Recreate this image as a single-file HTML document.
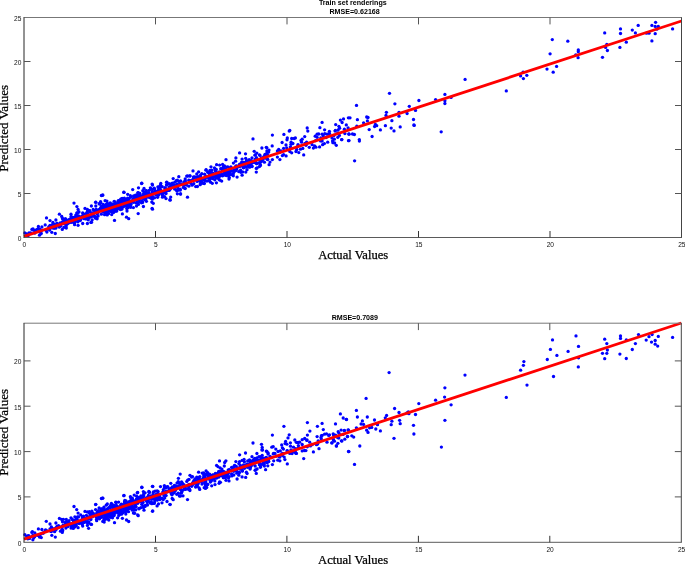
<!DOCTYPE html>
<html><head><meta charset="utf-8"><style>
html,body{margin:0;padding:0;background:#fff;}
svg{display:block;}
#w{width:685px;height:564px;overflow:hidden;will-change:transform;}
</style></head><body>
<div id="w"><svg width="685" height="564" viewBox="0 0 685 564">
<rect width="685" height="564" fill="#fff"/>
<g fill="#0000ff">
<circle cx="33.0" cy="229.0" r="1.65"/>
<circle cx="52.0" cy="227.9" r="1.65"/>
<circle cx="52.9" cy="222.5" r="1.65"/>
<circle cx="46.1" cy="230.4" r="1.65"/>
<circle cx="30.7" cy="233.0" r="1.65"/>
<circle cx="59.7" cy="224.4" r="1.65"/>
<circle cx="60.2" cy="223.0" r="1.65"/>
<circle cx="54.1" cy="227.8" r="1.65"/>
<circle cx="34.9" cy="233.0" r="1.65"/>
<circle cx="39.8" cy="232.1" r="1.65"/>
<circle cx="49.3" cy="229.2" r="1.65"/>
<circle cx="60.5" cy="223.6" r="1.65"/>
<circle cx="46.9" cy="232.0" r="1.65"/>
<circle cx="33.5" cy="230.2" r="1.65"/>
<circle cx="50.1" cy="227.6" r="1.65"/>
<circle cx="41.4" cy="230.4" r="1.65"/>
<circle cx="54.3" cy="224.5" r="1.65"/>
<circle cx="56.6" cy="224.6" r="1.65"/>
<circle cx="59.1" cy="224.6" r="1.65"/>
<circle cx="49.7" cy="230.1" r="1.65"/>
<circle cx="58.7" cy="226.7" r="1.65"/>
<circle cx="60.9" cy="226.0" r="1.65"/>
<circle cx="48.7" cy="227.0" r="1.65"/>
<circle cx="45.2" cy="224.9" r="1.65"/>
<circle cx="37.9" cy="228.9" r="1.65"/>
<circle cx="39.7" cy="229.2" r="1.65"/>
<circle cx="57.0" cy="223.3" r="1.65"/>
<circle cx="53.9" cy="228.2" r="1.65"/>
<circle cx="55.7" cy="228.2" r="1.65"/>
<circle cx="36.6" cy="229.6" r="1.65"/>
<circle cx="84.1" cy="218.7" r="1.65"/>
<circle cx="97.1" cy="218.8" r="1.65"/>
<circle cx="79.8" cy="216.6" r="1.65"/>
<circle cx="70.4" cy="219.0" r="1.65"/>
<circle cx="73.0" cy="219.2" r="1.65"/>
<circle cx="98.9" cy="209.6" r="1.65"/>
<circle cx="64.7" cy="223.0" r="1.65"/>
<circle cx="91.3" cy="215.0" r="1.65"/>
<circle cx="75.9" cy="216.4" r="1.65"/>
<circle cx="86.2" cy="216.0" r="1.65"/>
<circle cx="77.3" cy="219.2" r="1.65"/>
<circle cx="73.6" cy="222.5" r="1.65"/>
<circle cx="66.2" cy="224.0" r="1.65"/>
<circle cx="87.3" cy="211.4" r="1.65"/>
<circle cx="95.5" cy="210.3" r="1.65"/>
<circle cx="78.1" cy="219.9" r="1.65"/>
<circle cx="77.4" cy="218.3" r="1.65"/>
<circle cx="79.6" cy="217.4" r="1.65"/>
<circle cx="82.3" cy="216.5" r="1.65"/>
<circle cx="88.8" cy="215.2" r="1.65"/>
<circle cx="62.4" cy="221.9" r="1.65"/>
<circle cx="63.3" cy="222.4" r="1.65"/>
<circle cx="68.9" cy="222.7" r="1.65"/>
<circle cx="88.0" cy="215.6" r="1.65"/>
<circle cx="89.7" cy="211.7" r="1.65"/>
<circle cx="80.1" cy="220.6" r="1.65"/>
<circle cx="80.9" cy="219.0" r="1.65"/>
<circle cx="95.1" cy="210.9" r="1.65"/>
<circle cx="88.3" cy="214.7" r="1.65"/>
<circle cx="65.2" cy="222.1" r="1.65"/>
<circle cx="63.2" cy="219.2" r="1.65"/>
<circle cx="95.3" cy="218.1" r="1.65"/>
<circle cx="93.9" cy="216.2" r="1.65"/>
<circle cx="91.4" cy="216.8" r="1.65"/>
<circle cx="92.8" cy="213.8" r="1.65"/>
<circle cx="68.8" cy="219.7" r="1.65"/>
<circle cx="92.1" cy="213.2" r="1.65"/>
<circle cx="79.0" cy="212.0" r="1.65"/>
<circle cx="95.8" cy="216.9" r="1.65"/>
<circle cx="95.6" cy="217.8" r="1.65"/>
<circle cx="74.8" cy="222.5" r="1.65"/>
<circle cx="88.2" cy="216.3" r="1.65"/>
<circle cx="75.3" cy="221.2" r="1.65"/>
<circle cx="93.3" cy="214.0" r="1.65"/>
<circle cx="65.4" cy="224.3" r="1.65"/>
<circle cx="69.8" cy="220.1" r="1.65"/>
<circle cx="66.3" cy="228.0" r="1.65"/>
<circle cx="74.1" cy="218.8" r="1.65"/>
<circle cx="65.6" cy="218.9" r="1.65"/>
<circle cx="62.5" cy="218.5" r="1.65"/>
<circle cx="86.1" cy="217.5" r="1.65"/>
<circle cx="83.6" cy="213.9" r="1.65"/>
<circle cx="92.6" cy="213.6" r="1.65"/>
<circle cx="87.1" cy="217.5" r="1.65"/>
<circle cx="83.0" cy="214.1" r="1.65"/>
<circle cx="97.6" cy="211.2" r="1.65"/>
<circle cx="72.9" cy="217.3" r="1.65"/>
<circle cx="77.2" cy="213.1" r="1.65"/>
<circle cx="64.1" cy="223.0" r="1.65"/>
<circle cx="67.6" cy="222.6" r="1.65"/>
<circle cx="66.6" cy="220.5" r="1.65"/>
<circle cx="79.0" cy="220.1" r="1.65"/>
<circle cx="87.3" cy="213.3" r="1.65"/>
<circle cx="75.8" cy="215.1" r="1.65"/>
<circle cx="87.2" cy="213.8" r="1.65"/>
<circle cx="82.7" cy="216.2" r="1.65"/>
<circle cx="74.1" cy="217.4" r="1.65"/>
<circle cx="71.1" cy="216.4" r="1.65"/>
<circle cx="78.5" cy="215.8" r="1.65"/>
<circle cx="63.5" cy="223.6" r="1.65"/>
<circle cx="63.9" cy="227.4" r="1.65"/>
<circle cx="78.7" cy="217.8" r="1.65"/>
<circle cx="87.3" cy="214.6" r="1.65"/>
<circle cx="98.1" cy="216.0" r="1.65"/>
<circle cx="91.4" cy="206.0" r="1.65"/>
<circle cx="97.0" cy="213.7" r="1.65"/>
<circle cx="64.2" cy="220.1" r="1.65"/>
<circle cx="72.4" cy="221.7" r="1.65"/>
<circle cx="85.4" cy="218.7" r="1.65"/>
<circle cx="94.6" cy="216.4" r="1.65"/>
<circle cx="64.3" cy="221.9" r="1.65"/>
<circle cx="86.3" cy="213.5" r="1.65"/>
<circle cx="88.3" cy="219.8" r="1.65"/>
<circle cx="74.9" cy="218.5" r="1.65"/>
<circle cx="89.7" cy="217.0" r="1.65"/>
<circle cx="77.9" cy="221.8" r="1.65"/>
<circle cx="72.1" cy="220.3" r="1.65"/>
<circle cx="92.3" cy="215.5" r="1.65"/>
<circle cx="65.7" cy="222.5" r="1.65"/>
<circle cx="68.0" cy="223.3" r="1.65"/>
<circle cx="89.7" cy="210.8" r="1.65"/>
<circle cx="96.2" cy="210.1" r="1.65"/>
<circle cx="79.1" cy="219.6" r="1.65"/>
<circle cx="81.6" cy="217.5" r="1.65"/>
<circle cx="89.2" cy="217.5" r="1.65"/>
<circle cx="70.6" cy="219.0" r="1.65"/>
<circle cx="84.5" cy="218.4" r="1.65"/>
<circle cx="97.4" cy="210.9" r="1.65"/>
<circle cx="96.3" cy="209.4" r="1.65"/>
<circle cx="66.9" cy="220.4" r="1.65"/>
<circle cx="66.2" cy="225.8" r="1.65"/>
<circle cx="89.1" cy="215.6" r="1.65"/>
<circle cx="99.7" cy="204.0" r="1.65"/>
<circle cx="77.3" cy="213.1" r="1.65"/>
<circle cx="67.1" cy="223.9" r="1.65"/>
<circle cx="82.2" cy="217.7" r="1.65"/>
<circle cx="99.5" cy="210.6" r="1.65"/>
<circle cx="89.5" cy="216.4" r="1.65"/>
<circle cx="76.8" cy="217.1" r="1.65"/>
<circle cx="94.4" cy="212.3" r="1.65"/>
<circle cx="104.4" cy="208.1" r="1.65"/>
<circle cx="121.4" cy="202.8" r="1.65"/>
<circle cx="118.2" cy="201.8" r="1.65"/>
<circle cx="117.0" cy="208.3" r="1.65"/>
<circle cx="101.3" cy="206.4" r="1.65"/>
<circle cx="115.6" cy="205.1" r="1.65"/>
<circle cx="126.4" cy="202.1" r="1.65"/>
<circle cx="106.8" cy="205.8" r="1.65"/>
<circle cx="103.8" cy="211.5" r="1.65"/>
<circle cx="118.3" cy="200.6" r="1.65"/>
<circle cx="113.3" cy="204.5" r="1.65"/>
<circle cx="115.9" cy="205.8" r="1.65"/>
<circle cx="104.4" cy="206.4" r="1.65"/>
<circle cx="120.1" cy="201.4" r="1.65"/>
<circle cx="107.4" cy="210.9" r="1.65"/>
<circle cx="120.6" cy="205.8" r="1.65"/>
<circle cx="115.3" cy="206.0" r="1.65"/>
<circle cx="112.0" cy="203.8" r="1.65"/>
<circle cx="127.2" cy="203.1" r="1.65"/>
<circle cx="117.7" cy="207.1" r="1.65"/>
<circle cx="118.9" cy="201.2" r="1.65"/>
<circle cx="113.2" cy="208.3" r="1.65"/>
<circle cx="120.1" cy="208.9" r="1.65"/>
<circle cx="119.2" cy="201.0" r="1.65"/>
<circle cx="114.1" cy="209.6" r="1.65"/>
<circle cx="118.8" cy="203.8" r="1.65"/>
<circle cx="126.1" cy="201.2" r="1.65"/>
<circle cx="122.3" cy="200.9" r="1.65"/>
<circle cx="118.0" cy="208.8" r="1.65"/>
<circle cx="116.0" cy="203.6" r="1.65"/>
<circle cx="129.2" cy="198.4" r="1.65"/>
<circle cx="128.1" cy="201.3" r="1.65"/>
<circle cx="128.3" cy="202.3" r="1.65"/>
<circle cx="125.7" cy="203.6" r="1.65"/>
<circle cx="126.5" cy="200.6" r="1.65"/>
<circle cx="120.5" cy="205.9" r="1.65"/>
<circle cx="128.2" cy="202.5" r="1.65"/>
<circle cx="119.9" cy="207.8" r="1.65"/>
<circle cx="106.6" cy="207.4" r="1.65"/>
<circle cx="114.4" cy="207.2" r="1.65"/>
<circle cx="106.9" cy="211.4" r="1.65"/>
<circle cx="104.5" cy="211.0" r="1.65"/>
<circle cx="103.6" cy="211.7" r="1.65"/>
<circle cx="109.5" cy="210.5" r="1.65"/>
<circle cx="121.8" cy="201.9" r="1.65"/>
<circle cx="105.6" cy="210.3" r="1.65"/>
<circle cx="108.9" cy="208.0" r="1.65"/>
<circle cx="114.0" cy="204.4" r="1.65"/>
<circle cx="124.2" cy="204.7" r="1.65"/>
<circle cx="125.3" cy="199.7" r="1.65"/>
<circle cx="119.3" cy="204.9" r="1.65"/>
<circle cx="105.1" cy="210.7" r="1.65"/>
<circle cx="123.7" cy="198.7" r="1.65"/>
<circle cx="129.0" cy="205.3" r="1.65"/>
<circle cx="127.6" cy="201.6" r="1.65"/>
<circle cx="108.3" cy="208.4" r="1.65"/>
<circle cx="106.6" cy="206.0" r="1.65"/>
<circle cx="127.6" cy="198.1" r="1.65"/>
<circle cx="121.2" cy="208.4" r="1.65"/>
<circle cx="114.2" cy="205.2" r="1.65"/>
<circle cx="125.1" cy="202.0" r="1.65"/>
<circle cx="121.8" cy="209.2" r="1.65"/>
<circle cx="126.0" cy="204.4" r="1.65"/>
<circle cx="128.5" cy="202.4" r="1.65"/>
<circle cx="104.3" cy="205.6" r="1.65"/>
<circle cx="114.5" cy="207.5" r="1.65"/>
<circle cx="126.4" cy="205.1" r="1.65"/>
<circle cx="104.0" cy="208.9" r="1.65"/>
<circle cx="127.4" cy="199.8" r="1.65"/>
<circle cx="104.1" cy="210.3" r="1.65"/>
<circle cx="100.3" cy="208.7" r="1.65"/>
<circle cx="116.7" cy="204.3" r="1.65"/>
<circle cx="127.7" cy="194.3" r="1.65"/>
<circle cx="102.0" cy="211.1" r="1.65"/>
<circle cx="122.7" cy="203.8" r="1.65"/>
<circle cx="100.9" cy="202.9" r="1.65"/>
<circle cx="115.2" cy="202.1" r="1.65"/>
<circle cx="114.1" cy="204.9" r="1.65"/>
<circle cx="108.2" cy="213.5" r="1.65"/>
<circle cx="121.0" cy="200.5" r="1.65"/>
<circle cx="128.8" cy="200.4" r="1.65"/>
<circle cx="120.8" cy="203.8" r="1.65"/>
<circle cx="103.1" cy="210.0" r="1.65"/>
<circle cx="106.2" cy="204.5" r="1.65"/>
<circle cx="104.6" cy="211.3" r="1.65"/>
<circle cx="129.3" cy="202.2" r="1.65"/>
<circle cx="106.8" cy="210.0" r="1.65"/>
<circle cx="110.2" cy="206.6" r="1.65"/>
<circle cx="114.2" cy="201.3" r="1.65"/>
<circle cx="107.2" cy="214.9" r="1.65"/>
<circle cx="114.5" cy="206.7" r="1.65"/>
<circle cx="120.7" cy="205.7" r="1.65"/>
<circle cx="110.2" cy="202.9" r="1.65"/>
<circle cx="102.7" cy="210.5" r="1.65"/>
<circle cx="101.6" cy="206.7" r="1.65"/>
<circle cx="100.6" cy="201.7" r="1.65"/>
<circle cx="113.6" cy="212.4" r="1.65"/>
<circle cx="129.7" cy="201.1" r="1.65"/>
<circle cx="115.9" cy="206.8" r="1.65"/>
<circle cx="114.2" cy="206.2" r="1.65"/>
<circle cx="125.4" cy="200.1" r="1.65"/>
<circle cx="113.5" cy="208.7" r="1.65"/>
<circle cx="111.4" cy="210.5" r="1.65"/>
<circle cx="106.9" cy="201.1" r="1.65"/>
<circle cx="109.7" cy="209.5" r="1.65"/>
<circle cx="124.4" cy="198.2" r="1.65"/>
<circle cx="120.5" cy="209.5" r="1.65"/>
<circle cx="119.0" cy="201.7" r="1.65"/>
<circle cx="108.5" cy="213.5" r="1.65"/>
<circle cx="125.7" cy="205.7" r="1.65"/>
<circle cx="126.7" cy="201.8" r="1.65"/>
<circle cx="127.9" cy="206.9" r="1.65"/>
<circle cx="106.2" cy="210.9" r="1.65"/>
<circle cx="106.6" cy="209.1" r="1.65"/>
<circle cx="120.4" cy="206.8" r="1.65"/>
<circle cx="120.7" cy="199.1" r="1.65"/>
<circle cx="129.4" cy="204.7" r="1.65"/>
<circle cx="127.6" cy="201.4" r="1.65"/>
<circle cx="121.6" cy="204.1" r="1.65"/>
<circle cx="105.1" cy="213.4" r="1.65"/>
<circle cx="112.0" cy="207.3" r="1.65"/>
<circle cx="116.1" cy="205.3" r="1.65"/>
<circle cx="113.1" cy="206.5" r="1.65"/>
<circle cx="115.7" cy="207.0" r="1.65"/>
<circle cx="110.0" cy="210.3" r="1.65"/>
<circle cx="120.4" cy="206.1" r="1.65"/>
<circle cx="102.4" cy="210.5" r="1.65"/>
<circle cx="114.1" cy="205.1" r="1.65"/>
<circle cx="111.0" cy="211.5" r="1.65"/>
<circle cx="122.1" cy="198.6" r="1.65"/>
<circle cx="108.8" cy="205.5" r="1.65"/>
<circle cx="115.3" cy="211.2" r="1.65"/>
<circle cx="119.1" cy="204.4" r="1.65"/>
<circle cx="111.5" cy="205.2" r="1.65"/>
<circle cx="128.6" cy="198.7" r="1.65"/>
<circle cx="104.6" cy="214.7" r="1.65"/>
<circle cx="100.4" cy="208.3" r="1.65"/>
<circle cx="117.9" cy="205.1" r="1.65"/>
<circle cx="123.1" cy="207.0" r="1.65"/>
<circle cx="111.2" cy="208.2" r="1.65"/>
<circle cx="127.2" cy="205.7" r="1.65"/>
<circle cx="122.2" cy="198.4" r="1.65"/>
<circle cx="110.4" cy="204.8" r="1.65"/>
<circle cx="111.0" cy="204.7" r="1.65"/>
<circle cx="108.7" cy="204.2" r="1.65"/>
<circle cx="107.3" cy="203.3" r="1.65"/>
<circle cx="110.7" cy="209.1" r="1.65"/>
<circle cx="111.7" cy="209.7" r="1.65"/>
<circle cx="102.8" cy="208.3" r="1.65"/>
<circle cx="124.2" cy="200.8" r="1.65"/>
<circle cx="107.3" cy="207.8" r="1.65"/>
<circle cx="105.1" cy="200.7" r="1.65"/>
<circle cx="111.1" cy="210.5" r="1.65"/>
<circle cx="109.9" cy="207.2" r="1.65"/>
<circle cx="104.6" cy="210.8" r="1.65"/>
<circle cx="126.4" cy="200.0" r="1.65"/>
<circle cx="116.7" cy="209.7" r="1.65"/>
<circle cx="127.0" cy="211.0" r="1.65"/>
<circle cx="122.5" cy="199.5" r="1.65"/>
<circle cx="128.4" cy="198.6" r="1.65"/>
<circle cx="105.9" cy="209.4" r="1.65"/>
<circle cx="112.5" cy="212.2" r="1.65"/>
<circle cx="129.6" cy="203.2" r="1.65"/>
<circle cx="104.8" cy="206.2" r="1.65"/>
<circle cx="118.4" cy="201.7" r="1.65"/>
<circle cx="123.4" cy="200.9" r="1.65"/>
<circle cx="114.3" cy="209.6" r="1.65"/>
<circle cx="104.8" cy="206.8" r="1.65"/>
<circle cx="124.6" cy="206.2" r="1.65"/>
<circle cx="127.8" cy="207.8" r="1.65"/>
<circle cx="105.9" cy="210.5" r="1.65"/>
<circle cx="113.7" cy="211.1" r="1.65"/>
<circle cx="111.2" cy="207.3" r="1.65"/>
<circle cx="103.9" cy="206.9" r="1.65"/>
<circle cx="116.5" cy="211.2" r="1.65"/>
<circle cx="103.2" cy="204.5" r="1.65"/>
<circle cx="122.4" cy="200.0" r="1.65"/>
<circle cx="111.7" cy="214.6" r="1.65"/>
<circle cx="103.1" cy="208.2" r="1.65"/>
<circle cx="105.3" cy="212.5" r="1.65"/>
<circle cx="123.1" cy="201.0" r="1.65"/>
<circle cx="107.0" cy="213.2" r="1.65"/>
<circle cx="114.7" cy="205.0" r="1.65"/>
<circle cx="108.7" cy="206.4" r="1.65"/>
<circle cx="125.2" cy="200.5" r="1.65"/>
<circle cx="118.5" cy="206.7" r="1.65"/>
<circle cx="120.7" cy="206.8" r="1.65"/>
<circle cx="125.6" cy="199.6" r="1.65"/>
<circle cx="126.8" cy="208.5" r="1.65"/>
<circle cx="120.8" cy="201.1" r="1.65"/>
<circle cx="159.4" cy="186.7" r="1.65"/>
<circle cx="152.0" cy="195.6" r="1.65"/>
<circle cx="136.4" cy="203.2" r="1.65"/>
<circle cx="133.7" cy="202.3" r="1.65"/>
<circle cx="141.5" cy="202.8" r="1.65"/>
<circle cx="133.6" cy="195.9" r="1.65"/>
<circle cx="132.5" cy="201.6" r="1.65"/>
<circle cx="130.7" cy="207.2" r="1.65"/>
<circle cx="136.8" cy="200.5" r="1.65"/>
<circle cx="145.7" cy="197.3" r="1.65"/>
<circle cx="135.5" cy="195.1" r="1.65"/>
<circle cx="151.7" cy="197.2" r="1.65"/>
<circle cx="142.5" cy="198.3" r="1.65"/>
<circle cx="154.8" cy="189.1" r="1.65"/>
<circle cx="137.5" cy="196.0" r="1.65"/>
<circle cx="158.4" cy="195.3" r="1.65"/>
<circle cx="148.6" cy="192.8" r="1.65"/>
<circle cx="138.4" cy="199.0" r="1.65"/>
<circle cx="136.5" cy="206.1" r="1.65"/>
<circle cx="156.8" cy="192.0" r="1.65"/>
<circle cx="145.9" cy="195.5" r="1.65"/>
<circle cx="144.4" cy="194.0" r="1.65"/>
<circle cx="134.4" cy="197.7" r="1.65"/>
<circle cx="133.0" cy="201.6" r="1.65"/>
<circle cx="157.6" cy="197.3" r="1.65"/>
<circle cx="151.0" cy="198.0" r="1.65"/>
<circle cx="132.7" cy="189.6" r="1.65"/>
<circle cx="159.6" cy="192.7" r="1.65"/>
<circle cx="146.9" cy="196.6" r="1.65"/>
<circle cx="138.8" cy="193.4" r="1.65"/>
<circle cx="146.5" cy="193.3" r="1.65"/>
<circle cx="154.6" cy="191.4" r="1.65"/>
<circle cx="143.3" cy="197.0" r="1.65"/>
<circle cx="143.3" cy="195.8" r="1.65"/>
<circle cx="131.3" cy="196.9" r="1.65"/>
<circle cx="146.3" cy="190.7" r="1.65"/>
<circle cx="147.0" cy="194.1" r="1.65"/>
<circle cx="141.6" cy="195.9" r="1.65"/>
<circle cx="147.4" cy="193.7" r="1.65"/>
<circle cx="144.3" cy="194.1" r="1.65"/>
<circle cx="139.9" cy="193.5" r="1.65"/>
<circle cx="139.8" cy="196.5" r="1.65"/>
<circle cx="150.5" cy="197.0" r="1.65"/>
<circle cx="159.4" cy="188.4" r="1.65"/>
<circle cx="139.3" cy="200.2" r="1.65"/>
<circle cx="140.9" cy="196.8" r="1.65"/>
<circle cx="154.5" cy="197.8" r="1.65"/>
<circle cx="156.1" cy="193.8" r="1.65"/>
<circle cx="158.3" cy="190.9" r="1.65"/>
<circle cx="140.0" cy="195.4" r="1.65"/>
<circle cx="148.9" cy="195.9" r="1.65"/>
<circle cx="156.4" cy="193.0" r="1.65"/>
<circle cx="148.8" cy="197.0" r="1.65"/>
<circle cx="138.7" cy="201.5" r="1.65"/>
<circle cx="156.1" cy="191.6" r="1.65"/>
<circle cx="152.3" cy="199.2" r="1.65"/>
<circle cx="139.6" cy="198.2" r="1.65"/>
<circle cx="142.0" cy="201.5" r="1.65"/>
<circle cx="147.8" cy="192.8" r="1.65"/>
<circle cx="142.6" cy="202.4" r="1.65"/>
<circle cx="134.1" cy="201.1" r="1.65"/>
<circle cx="150.4" cy="187.8" r="1.65"/>
<circle cx="146.4" cy="201.3" r="1.65"/>
<circle cx="130.3" cy="195.7" r="1.65"/>
<circle cx="144.6" cy="199.5" r="1.65"/>
<circle cx="137.3" cy="199.4" r="1.65"/>
<circle cx="143.8" cy="194.0" r="1.65"/>
<circle cx="137.8" cy="192.9" r="1.65"/>
<circle cx="130.4" cy="207.0" r="1.65"/>
<circle cx="146.5" cy="195.9" r="1.65"/>
<circle cx="133.4" cy="207.6" r="1.65"/>
<circle cx="145.9" cy="198.7" r="1.65"/>
<circle cx="155.8" cy="194.1" r="1.65"/>
<circle cx="154.2" cy="188.1" r="1.65"/>
<circle cx="137.6" cy="199.0" r="1.65"/>
<circle cx="153.0" cy="197.4" r="1.65"/>
<circle cx="153.8" cy="193.8" r="1.65"/>
<circle cx="144.3" cy="192.4" r="1.65"/>
<circle cx="135.8" cy="197.1" r="1.65"/>
<circle cx="145.4" cy="192.2" r="1.65"/>
<circle cx="151.8" cy="202.1" r="1.65"/>
<circle cx="133.2" cy="199.3" r="1.65"/>
<circle cx="138.6" cy="194.7" r="1.65"/>
<circle cx="138.5" cy="195.3" r="1.65"/>
<circle cx="157.9" cy="186.8" r="1.65"/>
<circle cx="131.6" cy="202.2" r="1.65"/>
<circle cx="138.4" cy="204.4" r="1.65"/>
<circle cx="145.7" cy="197.1" r="1.65"/>
<circle cx="158.6" cy="189.7" r="1.65"/>
<circle cx="140.7" cy="196.1" r="1.65"/>
<circle cx="141.3" cy="198.2" r="1.65"/>
<circle cx="149.5" cy="196.5" r="1.65"/>
<circle cx="139.4" cy="193.3" r="1.65"/>
<circle cx="138.2" cy="200.2" r="1.65"/>
<circle cx="143.2" cy="195.8" r="1.65"/>
<circle cx="150.0" cy="197.5" r="1.65"/>
<circle cx="133.0" cy="199.1" r="1.65"/>
<circle cx="150.1" cy="195.7" r="1.65"/>
<circle cx="138.9" cy="202.2" r="1.65"/>
<circle cx="149.9" cy="194.1" r="1.65"/>
<circle cx="145.7" cy="198.4" r="1.65"/>
<circle cx="149.2" cy="190.4" r="1.65"/>
<circle cx="131.0" cy="204.5" r="1.65"/>
<circle cx="142.4" cy="201.6" r="1.65"/>
<circle cx="159.3" cy="187.8" r="1.65"/>
<circle cx="152.4" cy="189.4" r="1.65"/>
<circle cx="158.9" cy="187.7" r="1.65"/>
<circle cx="142.8" cy="190.7" r="1.65"/>
<circle cx="138.0" cy="200.7" r="1.65"/>
<circle cx="156.8" cy="194.2" r="1.65"/>
<circle cx="149.7" cy="195.7" r="1.65"/>
<circle cx="143.8" cy="197.1" r="1.65"/>
<circle cx="146.3" cy="195.6" r="1.65"/>
<circle cx="137.9" cy="199.3" r="1.65"/>
<circle cx="156.3" cy="191.8" r="1.65"/>
<circle cx="138.1" cy="192.7" r="1.65"/>
<circle cx="150.0" cy="195.7" r="1.65"/>
<circle cx="158.7" cy="194.6" r="1.65"/>
<circle cx="136.4" cy="198.7" r="1.65"/>
<circle cx="156.0" cy="195.1" r="1.65"/>
<circle cx="150.6" cy="189.2" r="1.65"/>
<circle cx="143.9" cy="193.3" r="1.65"/>
<circle cx="157.5" cy="192.9" r="1.65"/>
<circle cx="137.1" cy="196.3" r="1.65"/>
<circle cx="146.1" cy="190.6" r="1.65"/>
<circle cx="149.6" cy="196.9" r="1.65"/>
<circle cx="152.3" cy="192.0" r="1.65"/>
<circle cx="152.3" cy="192.5" r="1.65"/>
<circle cx="159.4" cy="188.4" r="1.65"/>
<circle cx="137.0" cy="195.1" r="1.65"/>
<circle cx="188.8" cy="186.2" r="1.65"/>
<circle cx="166.8" cy="185.1" r="1.65"/>
<circle cx="169.9" cy="186.8" r="1.65"/>
<circle cx="160.5" cy="185.0" r="1.65"/>
<circle cx="165.0" cy="191.4" r="1.65"/>
<circle cx="179.7" cy="184.0" r="1.65"/>
<circle cx="169.9" cy="183.9" r="1.65"/>
<circle cx="177.4" cy="180.2" r="1.65"/>
<circle cx="171.7" cy="185.5" r="1.65"/>
<circle cx="178.8" cy="189.9" r="1.65"/>
<circle cx="172.3" cy="183.2" r="1.65"/>
<circle cx="167.8" cy="190.0" r="1.65"/>
<circle cx="165.4" cy="188.3" r="1.65"/>
<circle cx="177.9" cy="185.0" r="1.65"/>
<circle cx="184.1" cy="185.0" r="1.65"/>
<circle cx="172.4" cy="185.1" r="1.65"/>
<circle cx="187.7" cy="176.0" r="1.65"/>
<circle cx="166.0" cy="198.6" r="1.65"/>
<circle cx="185.2" cy="188.5" r="1.65"/>
<circle cx="184.2" cy="185.0" r="1.65"/>
<circle cx="176.4" cy="180.8" r="1.65"/>
<circle cx="189.9" cy="175.9" r="1.65"/>
<circle cx="165.4" cy="188.8" r="1.65"/>
<circle cx="171.4" cy="187.7" r="1.65"/>
<circle cx="164.4" cy="192.8" r="1.65"/>
<circle cx="162.5" cy="195.0" r="1.65"/>
<circle cx="164.6" cy="196.6" r="1.65"/>
<circle cx="167.3" cy="189.6" r="1.65"/>
<circle cx="162.2" cy="186.7" r="1.65"/>
<circle cx="178.9" cy="181.4" r="1.65"/>
<circle cx="176.4" cy="180.6" r="1.65"/>
<circle cx="169.3" cy="187.3" r="1.65"/>
<circle cx="185.3" cy="180.8" r="1.65"/>
<circle cx="186.7" cy="176.1" r="1.65"/>
<circle cx="185.2" cy="179.0" r="1.65"/>
<circle cx="182.0" cy="183.8" r="1.65"/>
<circle cx="177.4" cy="193.8" r="1.65"/>
<circle cx="166.0" cy="191.0" r="1.65"/>
<circle cx="174.5" cy="185.3" r="1.65"/>
<circle cx="177.3" cy="186.3" r="1.65"/>
<circle cx="177.7" cy="187.7" r="1.65"/>
<circle cx="169.2" cy="184.0" r="1.65"/>
<circle cx="176.9" cy="191.0" r="1.65"/>
<circle cx="185.3" cy="182.0" r="1.65"/>
<circle cx="160.3" cy="190.5" r="1.65"/>
<circle cx="164.9" cy="187.7" r="1.65"/>
<circle cx="169.9" cy="189.0" r="1.65"/>
<circle cx="166.3" cy="190.9" r="1.65"/>
<circle cx="166.9" cy="189.3" r="1.65"/>
<circle cx="162.5" cy="197.2" r="1.65"/>
<circle cx="166.0" cy="193.6" r="1.65"/>
<circle cx="166.9" cy="190.7" r="1.65"/>
<circle cx="175.9" cy="186.5" r="1.65"/>
<circle cx="174.6" cy="189.1" r="1.65"/>
<circle cx="162.1" cy="194.3" r="1.65"/>
<circle cx="171.9" cy="184.6" r="1.65"/>
<circle cx="176.5" cy="190.1" r="1.65"/>
<circle cx="171.8" cy="186.3" r="1.65"/>
<circle cx="166.5" cy="184.9" r="1.65"/>
<circle cx="178.4" cy="189.8" r="1.65"/>
<circle cx="168.3" cy="190.4" r="1.65"/>
<circle cx="170.7" cy="186.9" r="1.65"/>
<circle cx="183.3" cy="187.4" r="1.65"/>
<circle cx="160.3" cy="189.4" r="1.65"/>
<circle cx="176.8" cy="185.3" r="1.65"/>
<circle cx="170.5" cy="188.5" r="1.65"/>
<circle cx="186.5" cy="185.1" r="1.65"/>
<circle cx="165.0" cy="190.4" r="1.65"/>
<circle cx="183.9" cy="181.8" r="1.65"/>
<circle cx="180.3" cy="190.0" r="1.65"/>
<circle cx="160.4" cy="189.8" r="1.65"/>
<circle cx="184.0" cy="184.4" r="1.65"/>
<circle cx="174.7" cy="182.3" r="1.65"/>
<circle cx="184.7" cy="188.3" r="1.65"/>
<circle cx="162.0" cy="193.5" r="1.65"/>
<circle cx="169.4" cy="190.3" r="1.65"/>
<circle cx="173.2" cy="178.6" r="1.65"/>
<circle cx="180.1" cy="189.2" r="1.65"/>
<circle cx="188.8" cy="180.2" r="1.65"/>
<circle cx="177.0" cy="184.2" r="1.65"/>
<circle cx="216.3" cy="169.4" r="1.65"/>
<circle cx="218.5" cy="177.6" r="1.65"/>
<circle cx="199.4" cy="179.0" r="1.65"/>
<circle cx="194.9" cy="176.9" r="1.65"/>
<circle cx="200.4" cy="178.3" r="1.65"/>
<circle cx="209.8" cy="173.2" r="1.65"/>
<circle cx="200.5" cy="180.1" r="1.65"/>
<circle cx="201.6" cy="181.3" r="1.65"/>
<circle cx="203.8" cy="183.2" r="1.65"/>
<circle cx="196.8" cy="174.0" r="1.65"/>
<circle cx="219.6" cy="165.1" r="1.65"/>
<circle cx="214.5" cy="167.8" r="1.65"/>
<circle cx="205.8" cy="176.5" r="1.65"/>
<circle cx="220.0" cy="180.2" r="1.65"/>
<circle cx="208.7" cy="180.6" r="1.65"/>
<circle cx="213.0" cy="178.7" r="1.65"/>
<circle cx="216.4" cy="182.8" r="1.65"/>
<circle cx="212.1" cy="173.0" r="1.65"/>
<circle cx="201.8" cy="173.7" r="1.65"/>
<circle cx="212.8" cy="173.4" r="1.65"/>
<circle cx="208.8" cy="177.6" r="1.65"/>
<circle cx="207.7" cy="172.1" r="1.65"/>
<circle cx="218.9" cy="174.4" r="1.65"/>
<circle cx="211.0" cy="166.8" r="1.65"/>
<circle cx="193.7" cy="177.9" r="1.65"/>
<circle cx="197.9" cy="180.6" r="1.65"/>
<circle cx="193.8" cy="183.7" r="1.65"/>
<circle cx="213.5" cy="176.7" r="1.65"/>
<circle cx="216.0" cy="177.9" r="1.65"/>
<circle cx="190.4" cy="180.6" r="1.65"/>
<circle cx="195.7" cy="186.6" r="1.65"/>
<circle cx="199.6" cy="181.1" r="1.65"/>
<circle cx="211.7" cy="170.1" r="1.65"/>
<circle cx="215.5" cy="174.8" r="1.65"/>
<circle cx="209.7" cy="179.8" r="1.65"/>
<circle cx="200.7" cy="180.6" r="1.65"/>
<circle cx="219.3" cy="171.8" r="1.65"/>
<circle cx="217.7" cy="175.3" r="1.65"/>
<circle cx="202.4" cy="183.2" r="1.65"/>
<circle cx="217.6" cy="175.9" r="1.65"/>
<circle cx="204.8" cy="180.5" r="1.65"/>
<circle cx="200.2" cy="184.7" r="1.65"/>
<circle cx="197.4" cy="186.5" r="1.65"/>
<circle cx="197.1" cy="181.4" r="1.65"/>
<circle cx="193.6" cy="176.9" r="1.65"/>
<circle cx="219.9" cy="176.2" r="1.65"/>
<circle cx="196.3" cy="177.5" r="1.65"/>
<circle cx="215.9" cy="171.3" r="1.65"/>
<circle cx="204.6" cy="174.2" r="1.65"/>
<circle cx="206.0" cy="170.2" r="1.65"/>
<circle cx="204.1" cy="179.3" r="1.65"/>
<circle cx="210.8" cy="175.1" r="1.65"/>
<circle cx="212.8" cy="173.3" r="1.65"/>
<circle cx="212.4" cy="173.9" r="1.65"/>
<circle cx="215.5" cy="177.1" r="1.65"/>
<circle cx="209.9" cy="170.5" r="1.65"/>
<circle cx="200.5" cy="176.8" r="1.65"/>
<circle cx="209.3" cy="177.2" r="1.65"/>
<circle cx="200.2" cy="179.4" r="1.65"/>
<circle cx="197.9" cy="176.7" r="1.65"/>
<circle cx="192.6" cy="179.7" r="1.65"/>
<circle cx="214.8" cy="179.8" r="1.65"/>
<circle cx="217.5" cy="178.1" r="1.65"/>
<circle cx="206.9" cy="177.4" r="1.65"/>
<circle cx="200.5" cy="183.4" r="1.65"/>
<circle cx="199.4" cy="176.7" r="1.65"/>
<circle cx="214.9" cy="169.8" r="1.65"/>
<circle cx="204.3" cy="178.5" r="1.65"/>
<circle cx="204.3" cy="183.6" r="1.65"/>
<circle cx="199.1" cy="179.8" r="1.65"/>
<circle cx="203.5" cy="179.4" r="1.65"/>
<circle cx="192.1" cy="185.2" r="1.65"/>
<circle cx="190.9" cy="183.3" r="1.65"/>
<circle cx="210.5" cy="182.2" r="1.65"/>
<circle cx="211.7" cy="177.9" r="1.65"/>
<circle cx="212.1" cy="176.7" r="1.65"/>
<circle cx="212.3" cy="173.1" r="1.65"/>
<circle cx="201.4" cy="178.5" r="1.65"/>
<circle cx="218.4" cy="176.3" r="1.65"/>
<circle cx="200.6" cy="175.1" r="1.65"/>
<circle cx="208.1" cy="172.3" r="1.65"/>
<circle cx="215.6" cy="171.5" r="1.65"/>
<circle cx="206.9" cy="181.0" r="1.65"/>
<circle cx="211.0" cy="178.2" r="1.65"/>
<circle cx="193.0" cy="170.9" r="1.65"/>
<circle cx="209.4" cy="173.9" r="1.65"/>
<circle cx="210.2" cy="171.4" r="1.65"/>
<circle cx="219.6" cy="172.6" r="1.65"/>
<circle cx="198.4" cy="177.4" r="1.65"/>
<circle cx="205.4" cy="177.0" r="1.65"/>
<circle cx="254.1" cy="162.6" r="1.65"/>
<circle cx="265.2" cy="158.0" r="1.65"/>
<circle cx="259.4" cy="166.6" r="1.65"/>
<circle cx="258.6" cy="162.9" r="1.65"/>
<circle cx="229.0" cy="173.7" r="1.65"/>
<circle cx="241.6" cy="165.5" r="1.65"/>
<circle cx="251.4" cy="160.7" r="1.65"/>
<circle cx="233.4" cy="163.1" r="1.65"/>
<circle cx="243.2" cy="167.5" r="1.65"/>
<circle cx="243.6" cy="167.8" r="1.65"/>
<circle cx="223.6" cy="168.1" r="1.65"/>
<circle cx="228.6" cy="175.9" r="1.65"/>
<circle cx="240.8" cy="172.3" r="1.65"/>
<circle cx="224.8" cy="173.0" r="1.65"/>
<circle cx="228.7" cy="170.2" r="1.65"/>
<circle cx="246.5" cy="160.5" r="1.65"/>
<circle cx="249.2" cy="159.7" r="1.65"/>
<circle cx="227.4" cy="170.9" r="1.65"/>
<circle cx="226.8" cy="171.8" r="1.65"/>
<circle cx="235.4" cy="170.8" r="1.65"/>
<circle cx="262.8" cy="159.6" r="1.65"/>
<circle cx="232.9" cy="170.9" r="1.65"/>
<circle cx="226.3" cy="175.5" r="1.65"/>
<circle cx="256.8" cy="153.1" r="1.65"/>
<circle cx="265.8" cy="154.4" r="1.65"/>
<circle cx="238.5" cy="165.9" r="1.65"/>
<circle cx="251.3" cy="163.3" r="1.65"/>
<circle cx="238.7" cy="171.6" r="1.65"/>
<circle cx="252.1" cy="166.5" r="1.65"/>
<circle cx="226.7" cy="167.1" r="1.65"/>
<circle cx="248.5" cy="163.3" r="1.65"/>
<circle cx="223.2" cy="167.6" r="1.65"/>
<circle cx="224.5" cy="166.0" r="1.65"/>
<circle cx="243.8" cy="164.0" r="1.65"/>
<circle cx="255.0" cy="155.2" r="1.65"/>
<circle cx="230.4" cy="167.7" r="1.65"/>
<circle cx="259.9" cy="160.1" r="1.65"/>
<circle cx="230.8" cy="167.8" r="1.65"/>
<circle cx="234.1" cy="169.8" r="1.65"/>
<circle cx="223.3" cy="167.0" r="1.65"/>
<circle cx="255.3" cy="159.1" r="1.65"/>
<circle cx="233.3" cy="175.8" r="1.65"/>
<circle cx="224.9" cy="169.6" r="1.65"/>
<circle cx="240.6" cy="170.1" r="1.65"/>
<circle cx="245.8" cy="167.1" r="1.65"/>
<circle cx="222.0" cy="174.4" r="1.65"/>
<circle cx="267.4" cy="154.7" r="1.65"/>
<circle cx="228.1" cy="170.8" r="1.65"/>
<circle cx="249.0" cy="165.9" r="1.65"/>
<circle cx="252.1" cy="162.8" r="1.65"/>
<circle cx="245.3" cy="163.0" r="1.65"/>
<circle cx="235.6" cy="161.2" r="1.65"/>
<circle cx="256.6" cy="163.6" r="1.65"/>
<circle cx="245.7" cy="158.3" r="1.65"/>
<circle cx="256.6" cy="163.6" r="1.65"/>
<circle cx="247.7" cy="164.7" r="1.65"/>
<circle cx="246.6" cy="161.5" r="1.65"/>
<circle cx="222.4" cy="170.0" r="1.65"/>
<circle cx="235.4" cy="169.9" r="1.65"/>
<circle cx="231.3" cy="174.7" r="1.65"/>
<circle cx="256.5" cy="157.7" r="1.65"/>
<circle cx="249.5" cy="162.7" r="1.65"/>
<circle cx="262.7" cy="158.6" r="1.65"/>
<circle cx="261.3" cy="160.8" r="1.65"/>
<circle cx="233.9" cy="171.9" r="1.65"/>
<circle cx="239.6" cy="164.2" r="1.65"/>
<circle cx="260.4" cy="165.6" r="1.65"/>
<circle cx="233.3" cy="173.7" r="1.65"/>
<circle cx="257.2" cy="167.8" r="1.65"/>
<circle cx="236.2" cy="166.0" r="1.65"/>
<circle cx="266.5" cy="154.9" r="1.65"/>
<circle cx="237.5" cy="166.9" r="1.65"/>
<circle cx="224.1" cy="169.1" r="1.65"/>
<circle cx="247.0" cy="161.4" r="1.65"/>
<circle cx="262.5" cy="158.5" r="1.65"/>
<circle cx="248.8" cy="164.1" r="1.65"/>
<circle cx="224.2" cy="168.1" r="1.65"/>
<circle cx="241.5" cy="163.5" r="1.65"/>
<circle cx="251.7" cy="165.8" r="1.65"/>
<circle cx="229.9" cy="171.8" r="1.65"/>
<circle cx="230.3" cy="171.7" r="1.65"/>
<circle cx="261.0" cy="161.6" r="1.65"/>
<circle cx="266.9" cy="153.1" r="1.65"/>
<circle cx="220.7" cy="168.7" r="1.65"/>
<circle cx="236.3" cy="166.4" r="1.65"/>
<circle cx="222.6" cy="164.4" r="1.65"/>
<circle cx="267.6" cy="159.2" r="1.65"/>
<circle cx="239.4" cy="166.6" r="1.65"/>
<circle cx="263.8" cy="157.6" r="1.65"/>
<circle cx="248.0" cy="165.9" r="1.65"/>
<circle cx="250.0" cy="163.7" r="1.65"/>
<circle cx="244.2" cy="162.7" r="1.65"/>
<circle cx="229.3" cy="177.6" r="1.65"/>
<circle cx="265.7" cy="155.2" r="1.65"/>
<circle cx="226.5" cy="174.0" r="1.65"/>
<circle cx="242.6" cy="171.9" r="1.65"/>
<circle cx="260.8" cy="159.3" r="1.65"/>
<circle cx="225.5" cy="170.6" r="1.65"/>
<circle cx="254.9" cy="161.2" r="1.65"/>
<circle cx="249.7" cy="167.2" r="1.65"/>
<circle cx="222.6" cy="175.8" r="1.65"/>
<circle cx="220.9" cy="175.4" r="1.65"/>
<circle cx="236.6" cy="166.5" r="1.65"/>
<circle cx="224.0" cy="173.0" r="1.65"/>
<circle cx="256.6" cy="159.5" r="1.65"/>
<circle cx="241.7" cy="162.1" r="1.65"/>
<circle cx="263.9" cy="156.6" r="1.65"/>
<circle cx="244.3" cy="165.7" r="1.65"/>
<circle cx="243.5" cy="162.3" r="1.65"/>
<circle cx="244.1" cy="164.2" r="1.65"/>
<circle cx="221.9" cy="168.9" r="1.65"/>
<circle cx="255.3" cy="154.8" r="1.65"/>
<circle cx="260.3" cy="164.3" r="1.65"/>
<circle cx="240.3" cy="166.0" r="1.65"/>
<circle cx="255.6" cy="162.1" r="1.65"/>
<circle cx="248.6" cy="166.9" r="1.65"/>
<circle cx="221.7" cy="181.1" r="1.65"/>
<circle cx="244.6" cy="164.0" r="1.65"/>
<circle cx="249.8" cy="161.1" r="1.65"/>
<circle cx="224.6" cy="175.1" r="1.65"/>
<circle cx="236.8" cy="169.1" r="1.65"/>
<circle cx="251.6" cy="166.3" r="1.65"/>
<circle cx="261.2" cy="161.4" r="1.65"/>
<circle cx="249.8" cy="164.4" r="1.65"/>
<circle cx="265.0" cy="154.3" r="1.65"/>
<circle cx="261.4" cy="158.0" r="1.65"/>
<circle cx="229.9" cy="174.4" r="1.65"/>
<circle cx="248.2" cy="164.0" r="1.65"/>
<circle cx="225.9" cy="169.3" r="1.65"/>
<circle cx="260.0" cy="155.4" r="1.65"/>
<circle cx="235.9" cy="170.4" r="1.65"/>
<circle cx="231.2" cy="170.6" r="1.65"/>
<circle cx="235.8" cy="166.3" r="1.65"/>
<circle cx="267.2" cy="155.4" r="1.65"/>
<circle cx="228.1" cy="172.5" r="1.65"/>
<circle cx="264.4" cy="156.7" r="1.65"/>
<circle cx="230.9" cy="167.0" r="1.65"/>
<circle cx="254.4" cy="161.0" r="1.65"/>
<circle cx="249.4" cy="163.1" r="1.65"/>
<circle cx="227.8" cy="166.9" r="1.65"/>
<circle cx="287.0" cy="139.8" r="1.65"/>
<circle cx="318.7" cy="134.0" r="1.65"/>
<circle cx="305.2" cy="143.4" r="1.65"/>
<circle cx="344.9" cy="133.6" r="1.65"/>
<circle cx="326.1" cy="137.5" r="1.65"/>
<circle cx="322.6" cy="144.7" r="1.65"/>
<circle cx="337.8" cy="132.9" r="1.65"/>
<circle cx="282.4" cy="155.6" r="1.65"/>
<circle cx="313.4" cy="148.1" r="1.65"/>
<circle cx="278.7" cy="149.5" r="1.65"/>
<circle cx="296.7" cy="149.5" r="1.65"/>
<circle cx="306.0" cy="145.3" r="1.65"/>
<circle cx="279.8" cy="152.2" r="1.65"/>
<circle cx="300.5" cy="149.2" r="1.65"/>
<circle cx="333.9" cy="135.5" r="1.65"/>
<circle cx="298.8" cy="152.6" r="1.65"/>
<circle cx="290.4" cy="146.8" r="1.65"/>
<circle cx="332.9" cy="142.7" r="1.65"/>
<circle cx="324.4" cy="143.6" r="1.65"/>
<circle cx="291.0" cy="144.3" r="1.65"/>
<circle cx="286.0" cy="145.0" r="1.65"/>
<circle cx="328.4" cy="134.2" r="1.65"/>
<circle cx="337.8" cy="137.3" r="1.65"/>
<circle cx="319.9" cy="127.7" r="1.65"/>
<circle cx="320.6" cy="140.9" r="1.65"/>
<circle cx="329.4" cy="131.3" r="1.65"/>
<circle cx="335.4" cy="130.3" r="1.65"/>
<circle cx="297.3" cy="146.6" r="1.65"/>
<circle cx="315.2" cy="136.2" r="1.65"/>
<circle cx="298.0" cy="144.6" r="1.65"/>
<circle cx="324.8" cy="133.7" r="1.65"/>
<circle cx="342.1" cy="122.5" r="1.65"/>
<circle cx="269.0" cy="150.1" r="1.65"/>
<circle cx="309.3" cy="147.3" r="1.65"/>
<circle cx="315.6" cy="140.7" r="1.65"/>
<circle cx="334.3" cy="139.2" r="1.65"/>
<circle cx="319.6" cy="146.9" r="1.65"/>
<circle cx="338.9" cy="126.3" r="1.65"/>
<circle cx="334.6" cy="143.0" r="1.65"/>
<circle cx="339.6" cy="128.2" r="1.65"/>
<circle cx="604.7" cy="32.9" r="1.65"/>
<circle cx="620.5" cy="28.9" r="1.65"/>
<circle cx="620.5" cy="33.5" r="1.65"/>
<circle cx="632.3" cy="30.1" r="1.65"/>
<circle cx="635.4" cy="32.9" r="1.65"/>
<circle cx="638.2" cy="25.4" r="1.65"/>
<circle cx="651.9" cy="25.4" r="1.65"/>
<circle cx="655.6" cy="22.3" r="1.65"/>
<circle cx="655.2" cy="26.4" r="1.65"/>
<circle cx="658.3" cy="26.4" r="1.65"/>
<circle cx="657.0" cy="29.0" r="1.65"/>
<circle cx="655.2" cy="33.7" r="1.65"/>
<circle cx="646.5" cy="33.2" r="1.65"/>
<circle cx="649.0" cy="33.2" r="1.65"/>
<circle cx="651.9" cy="40.9" r="1.65"/>
<circle cx="672.6" cy="28.9" r="1.65"/>
<circle cx="626.3" cy="42.2" r="1.65"/>
<circle cx="619.9" cy="47.4" r="1.65"/>
<circle cx="606.8" cy="44.4" r="1.65"/>
<circle cx="605.6" cy="47.4" r="1.65"/>
<circle cx="607.4" cy="50.5" r="1.65"/>
<circle cx="602.5" cy="57.3" r="1.65"/>
<circle cx="552.3" cy="39.6" r="1.65"/>
<circle cx="567.8" cy="41.2" r="1.65"/>
<circle cx="550.1" cy="53.8" r="1.65"/>
<circle cx="578.3" cy="49.9" r="1.65"/>
<circle cx="578.3" cy="51.7" r="1.65"/>
<circle cx="575.8" cy="54.8" r="1.65"/>
<circle cx="578.1" cy="57.7" r="1.65"/>
<circle cx="556.6" cy="66.4" r="1.65"/>
<circle cx="547.0" cy="69.1" r="1.65"/>
<circle cx="553.2" cy="72.2" r="1.65"/>
<circle cx="526.8" cy="75.3" r="1.65"/>
<circle cx="523.1" cy="72.2" r="1.65"/>
<circle cx="520.6" cy="75.9" r="1.65"/>
<circle cx="523.4" cy="78.6" r="1.65"/>
<circle cx="465.1" cy="79.4" r="1.65"/>
<circle cx="506.3" cy="90.9" r="1.65"/>
<circle cx="444.9" cy="94.4" r="1.65"/>
<circle cx="444.9" cy="100.8" r="1.65"/>
<circle cx="444.9" cy="103.5" r="1.65"/>
<circle cx="451.1" cy="97.4" r="1.65"/>
<circle cx="435.6" cy="99.6" r="1.65"/>
<circle cx="441.2" cy="131.8" r="1.65"/>
<circle cx="389.5" cy="93.3" r="1.65"/>
<circle cx="418.9" cy="100.5" r="1.65"/>
<circle cx="356.5" cy="105.4" r="1.65"/>
<circle cx="394.9" cy="103.8" r="1.65"/>
<circle cx="409.3" cy="106.3" r="1.65"/>
<circle cx="386.4" cy="112.3" r="1.65"/>
<circle cx="386.0" cy="115.4" r="1.65"/>
<circle cx="399.0" cy="112.5" r="1.65"/>
<circle cx="399.0" cy="116.2" r="1.65"/>
<circle cx="407.1" cy="113.5" r="1.65"/>
<circle cx="415.5" cy="110.4" r="1.65"/>
<circle cx="366.7" cy="117.0" r="1.65"/>
<circle cx="368.0" cy="117.5" r="1.65"/>
<circle cx="357.4" cy="119.7" r="1.65"/>
<circle cx="367.4" cy="120.9" r="1.65"/>
<circle cx="363.6" cy="122.8" r="1.65"/>
<circle cx="391.9" cy="120.7" r="1.65"/>
<circle cx="413.5" cy="119.5" r="1.65"/>
<circle cx="413.9" cy="124.9" r="1.65"/>
<circle cx="375.4" cy="124.4" r="1.65"/>
<circle cx="376.7" cy="125.7" r="1.65"/>
<circle cx="374.6" cy="126.5" r="1.65"/>
<circle cx="385.4" cy="125.7" r="1.65"/>
<circle cx="356.8" cy="126.2" r="1.65"/>
<circle cx="369.2" cy="129.6" r="1.65"/>
<circle cx="380.4" cy="129.9" r="1.65"/>
<circle cx="391.2" cy="128.1" r="1.65"/>
<circle cx="394.0" cy="130.9" r="1.65"/>
<circle cx="400.2" cy="126.9" r="1.65"/>
<circle cx="372.1" cy="136.5" r="1.65"/>
<circle cx="352.5" cy="134.0" r="1.65"/>
<circle cx="354.4" cy="134.5" r="1.65"/>
<circle cx="359.3" cy="139.6" r="1.65"/>
<circle cx="350.0" cy="117.8" r="1.65"/>
<circle cx="414.2" cy="125.4" r="1.65"/>
<circle cx="341.8" cy="139.6" r="1.65"/>
<circle cx="349.0" cy="140.6" r="1.65"/>
<circle cx="359.4" cy="141.1" r="1.65"/>
<circle cx="354.6" cy="160.8" r="1.65"/>
<circle cx="348.8" cy="134.0" r="1.65"/>
<circle cx="272.4" cy="135.1" r="1.65"/>
<circle cx="283.9" cy="134.4" r="1.65"/>
<circle cx="289.2" cy="131.1" r="1.65"/>
<circle cx="289.8" cy="130.5" r="1.65"/>
<circle cx="287.3" cy="137.9" r="1.65"/>
<circle cx="282.1" cy="142.5" r="1.65"/>
<circle cx="272.2" cy="145.9" r="1.65"/>
<circle cx="291.7" cy="138.5" r="1.65"/>
<circle cx="294.2" cy="138.5" r="1.65"/>
<circle cx="295.4" cy="137.9" r="1.65"/>
<circle cx="291.1" cy="142.2" r="1.65"/>
<circle cx="292.9" cy="143.5" r="1.65"/>
<circle cx="301.0" cy="140.4" r="1.65"/>
<circle cx="302.2" cy="139.2" r="1.65"/>
<circle cx="304.7" cy="136.6" r="1.65"/>
<circle cx="307.2" cy="128.0" r="1.65"/>
<circle cx="307.8" cy="131.1" r="1.65"/>
<circle cx="301.6" cy="142.2" r="1.65"/>
<circle cx="306.6" cy="142.2" r="1.65"/>
<circle cx="312.1" cy="144.7" r="1.65"/>
<circle cx="314.6" cy="145.9" r="1.65"/>
<circle cx="315.9" cy="147.2" r="1.65"/>
<circle cx="302.8" cy="148.4" r="1.65"/>
<circle cx="317.1" cy="134.2" r="1.65"/>
<circle cx="317.1" cy="137.3" r="1.65"/>
<circle cx="322.1" cy="122.4" r="1.65"/>
<circle cx="324.6" cy="129.8" r="1.65"/>
<circle cx="322.1" cy="134.2" r="1.65"/>
<circle cx="323.3" cy="136.0" r="1.65"/>
<circle cx="327.0" cy="134.2" r="1.65"/>
<circle cx="329.5" cy="133.5" r="1.65"/>
<circle cx="320.8" cy="137.9" r="1.65"/>
<circle cx="322.1" cy="141.0" r="1.65"/>
<circle cx="327.7" cy="142.2" r="1.65"/>
<circle cx="332.0" cy="137.9" r="1.65"/>
<circle cx="332.6" cy="141.0" r="1.65"/>
<circle cx="336.3" cy="145.3" r="1.65"/>
<circle cx="335.7" cy="124.6" r="1.65"/>
<circle cx="335.1" cy="131.1" r="1.65"/>
<circle cx="338.2" cy="129.8" r="1.65"/>
<circle cx="339.4" cy="135.4" r="1.65"/>
<circle cx="340.4" cy="120.1" r="1.65"/>
<circle cx="343.5" cy="118.9" r="1.65"/>
<circle cx="348.4" cy="117.8" r="1.65"/>
<circle cx="346.3" cy="124.9" r="1.65"/>
<circle cx="344.4" cy="129.2" r="1.65"/>
<circle cx="348.1" cy="128.0" r="1.65"/>
<circle cx="349.1" cy="134.2" r="1.65"/>
<circle cx="348.5" cy="140.7" r="1.65"/>
<circle cx="341.7" cy="139.7" r="1.65"/>
<circle cx="266.9" cy="147.8" r="1.65"/>
<circle cx="266.9" cy="150.9" r="1.65"/>
<circle cx="268.7" cy="152.1" r="1.65"/>
<circle cx="277.4" cy="150.9" r="1.65"/>
<circle cx="283.6" cy="148.4" r="1.65"/>
<circle cx="286.7" cy="147.8" r="1.65"/>
<circle cx="289.8" cy="151.5" r="1.65"/>
<circle cx="296.0" cy="151.5" r="1.65"/>
<circle cx="291.7" cy="152.8" r="1.65"/>
<circle cx="283.6" cy="154.6" r="1.65"/>
<circle cx="286.1" cy="155.9" r="1.65"/>
<circle cx="279.9" cy="159.6" r="1.65"/>
<circle cx="272.4" cy="159.6" r="1.65"/>
<circle cx="270.0" cy="162.1" r="1.65"/>
<circle cx="267.5" cy="159.6" r="1.65"/>
<circle cx="303.7" cy="154.9" r="1.65"/>
<circle cx="277.4" cy="157.1" r="1.65"/>
<circle cx="281.0" cy="150.9" r="1.65"/>
<circle cx="253.0" cy="138.9" r="1.65"/>
<circle cx="239.6" cy="152.9" r="1.65"/>
<circle cx="245.5" cy="153.8" r="1.65"/>
<circle cx="254.2" cy="151.3" r="1.65"/>
<circle cx="261.9" cy="148.0" r="1.65"/>
<circle cx="266.3" cy="147.3" r="1.65"/>
<circle cx="226.0" cy="159.7" r="1.65"/>
<circle cx="216.6" cy="164.7" r="1.65"/>
<circle cx="206.1" cy="169.7" r="1.65"/>
<circle cx="198.6" cy="171.9" r="1.65"/>
<circle cx="190.0" cy="175.9" r="1.65"/>
<circle cx="235.9" cy="157.9" r="1.65"/>
<circle cx="242.1" cy="159.1" r="1.65"/>
<circle cx="252.0" cy="157.9" r="1.65"/>
<circle cx="259.4" cy="154.8" r="1.65"/>
<circle cx="264.4" cy="162.2" r="1.65"/>
<circle cx="269.1" cy="164.7" r="1.65"/>
<circle cx="256.3" cy="168.4" r="1.65"/>
<circle cx="256.3" cy="172.1" r="1.65"/>
<circle cx="242.1" cy="175.2" r="1.65"/>
<circle cx="237.1" cy="177.1" r="1.65"/>
<circle cx="229.0" cy="179.0" r="1.65"/>
<circle cx="219.1" cy="179.6" r="1.65"/>
<circle cx="212.3" cy="183.3" r="1.65"/>
<circle cx="204.0" cy="183.3" r="1.65"/>
<circle cx="247.0" cy="169.7" r="1.65"/>
<circle cx="245.8" cy="172.1" r="1.65"/>
<circle cx="102.5" cy="195.3" r="1.65"/>
<circle cx="123.8" cy="192.2" r="1.65"/>
<circle cx="141.6" cy="183.5" r="1.65"/>
<circle cx="152.1" cy="184.1" r="1.65"/>
<circle cx="160.8" cy="183.5" r="1.65"/>
<circle cx="167.0" cy="182.5" r="1.65"/>
<circle cx="178.8" cy="176.7" r="1.65"/>
<circle cx="138.5" cy="187.8" r="1.65"/>
<circle cx="144.0" cy="188.5" r="1.65"/>
<circle cx="180.6" cy="181.0" r="1.65"/>
<circle cx="143.4" cy="206.5" r="1.65"/>
<circle cx="152.1" cy="208.3" r="1.65"/>
<circle cx="170.1" cy="200.2" r="1.65"/>
<circle cx="180.6" cy="194.0" r="1.65"/>
<circle cx="170.7" cy="197.1" r="1.65"/>
<circle cx="153.3" cy="203.3" r="1.65"/>
<circle cx="114.5" cy="220.4" r="1.65"/>
<circle cx="126.5" cy="217.2" r="1.65"/>
<circle cx="128.7" cy="218.7" r="1.65"/>
<circle cx="138.2" cy="213.6" r="1.65"/>
<circle cx="152.5" cy="209.2" r="1.65"/>
<circle cx="170.0" cy="199.7" r="1.65"/>
<circle cx="187.5" cy="197.2" r="1.65"/>
<circle cx="91.5" cy="222.3" r="1.65"/>
<circle cx="122.4" cy="213.9" r="1.65"/>
<circle cx="102.8" cy="195.0" r="1.65"/>
<circle cx="95.8" cy="202.2" r="1.65"/>
<circle cx="124.0" cy="192.4" r="1.65"/>
<circle cx="141.8" cy="183.2" r="1.65"/>
<circle cx="166.6" cy="182.2" r="1.65"/>
<circle cx="152.5" cy="185.0" r="1.65"/>
<circle cx="180.5" cy="193.9" r="1.65"/>
<circle cx="74.0" cy="203.1" r="1.65"/>
<circle cx="76.9" cy="206.6" r="1.65"/>
<circle cx="78.1" cy="209.5" r="1.65"/>
<circle cx="95.6" cy="202.3" r="1.65"/>
<circle cx="95.8" cy="206.0" r="1.65"/>
<circle cx="101.4" cy="195.5" r="1.65"/>
<circle cx="46.5" cy="217.9" r="1.65"/>
<circle cx="50.0" cy="220.6" r="1.65"/>
<circle cx="55.9" cy="220.0" r="1.65"/>
<circle cx="59.4" cy="214.2" r="1.65"/>
<circle cx="61.7" cy="216.5" r="1.65"/>
<circle cx="65.2" cy="218.9" r="1.65"/>
<circle cx="71.0" cy="214.2" r="1.65"/>
<circle cx="76.9" cy="213.0" r="1.65"/>
<circle cx="82.7" cy="213.0" r="1.65"/>
<circle cx="87.4" cy="209.5" r="1.65"/>
<circle cx="89.7" cy="210.7" r="1.65"/>
<circle cx="92.1" cy="213.0" r="1.65"/>
<circle cx="97.9" cy="213.0" r="1.65"/>
<circle cx="50.0" cy="225.3" r="1.65"/>
<circle cx="52.4" cy="224.7" r="1.65"/>
<circle cx="59.4" cy="227.0" r="1.65"/>
<circle cx="62.3" cy="229.4" r="1.65"/>
<circle cx="51.8" cy="232.3" r="1.65"/>
<circle cx="55.3" cy="233.5" r="1.65"/>
<circle cx="38.4" cy="226.5" r="1.65"/>
<circle cx="41.9" cy="227.0" r="1.65"/>
<circle cx="39.5" cy="229.4" r="1.65"/>
<circle cx="41.3" cy="233.5" r="1.65"/>
<circle cx="39.5" cy="235.2" r="1.65"/>
<circle cx="31.9" cy="229.4" r="1.65"/>
<circle cx="24.9" cy="232.9" r="1.65"/>
<circle cx="26.7" cy="234.0" r="1.65"/>
<circle cx="29.0" cy="232.9" r="1.65"/>
<circle cx="27.8" cy="236.4" r="1.65"/>
<circle cx="34.8" cy="230.5" r="1.65"/>
<circle cx="71.0" cy="222.4" r="1.65"/>
<circle cx="74.6" cy="224.7" r="1.65"/>
<circle cx="78.1" cy="225.3" r="1.65"/>
<circle cx="82.7" cy="223.5" r="1.65"/>
<circle cx="87.4" cy="223.5" r="1.65"/>
<circle cx="90.9" cy="222.4" r="1.65"/>
<circle cx="92.1" cy="220.0" r="1.65"/>
<circle cx="73.4" cy="220.0" r="1.65"/>
<circle cx="80.4" cy="220.0" r="1.65"/>
<circle cx="96.7" cy="217.7" r="1.65"/>
<circle cx="57.0" cy="223.5" r="1.65"/>
<circle cx="67.5" cy="221.2" r="1.65"/>
<circle cx="86.2" cy="218.9" r="1.65"/>
<circle cx="99.1" cy="203.7" r="1.65"/>
<circle cx="101.4" cy="214.2" r="1.65"/>
<circle cx="85.0" cy="208.4" r="1.65"/>
<circle cx="93.2" cy="209.5" r="1.65"/>
</g>
<line x1="24.0" y1="236.4" x2="681.5" y2="21.0" stroke="#ff0000" stroke-width="2.8"/>
<line x1="24.0" y1="17.5" x2="681.5" y2="17.5" stroke="#777" stroke-width="1" stroke-linecap="square"/>
<line x1="24.0" y1="237.5" x2="681.5" y2="237.5" stroke="#5a5a5a" stroke-width="1" stroke-linecap="square"/>
<line x1="24.0" y1="17.5" x2="24.0" y2="237.5" stroke="#262626" stroke-width="1"/>
<line x1="681.5" y1="17.5" x2="681.5" y2="237.5" stroke="#444" stroke-width="1"/>
<text x="24.3" y="247.1" text-anchor="middle" style="font-family:'Liberation Sans',sans-serif;font-size:6.6px" fill="#111">0</text>
<line x1="155.5" y1="237.5" x2="155.5" y2="231.0" stroke="#333"/>
<line x1="155.5" y1="17.5" x2="155.5" y2="24.4" stroke="#555"/>
<text x="155.8" y="247.1" text-anchor="middle" style="font-family:'Liberation Sans',sans-serif;font-size:6.6px" fill="#111">5</text>
<line x1="287.0" y1="237.5" x2="287.0" y2="231.0" stroke="#333"/>
<line x1="287.0" y1="17.5" x2="287.0" y2="24.4" stroke="#555"/>
<text x="287.3" y="247.1" text-anchor="middle" style="font-family:'Liberation Sans',sans-serif;font-size:6.6px" fill="#111">10</text>
<line x1="418.5" y1="237.5" x2="418.5" y2="231.0" stroke="#333"/>
<line x1="418.5" y1="17.5" x2="418.5" y2="24.4" stroke="#555"/>
<text x="418.8" y="247.1" text-anchor="middle" style="font-family:'Liberation Sans',sans-serif;font-size:6.6px" fill="#111">15</text>
<line x1="550.0" y1="237.5" x2="550.0" y2="231.0" stroke="#333"/>
<line x1="550.0" y1="17.5" x2="550.0" y2="24.4" stroke="#555"/>
<text x="550.3" y="247.1" text-anchor="middle" style="font-family:'Liberation Sans',sans-serif;font-size:6.6px" fill="#111">20</text>
<text x="681.8" y="247.1" text-anchor="middle" style="font-family:'Liberation Sans',sans-serif;font-size:6.6px" fill="#111">25</text>
<text x="21.4" y="240.8" text-anchor="end" style="font-family:'Liberation Sans',sans-serif;font-size:6.6px" fill="#111">0</text>
<line x1="24.0" y1="193.5" x2="30.5" y2="193.5" stroke="#555"/>
<line x1="681.5" y1="193.5" x2="675.0" y2="193.5" stroke="#555"/>
<text x="21.4" y="196.8" text-anchor="end" style="font-family:'Liberation Sans',sans-serif;font-size:6.6px" fill="#111">5</text>
<line x1="24.0" y1="149.5" x2="30.5" y2="149.5" stroke="#555"/>
<line x1="681.5" y1="149.5" x2="675.0" y2="149.5" stroke="#555"/>
<text x="21.4" y="152.8" text-anchor="end" style="font-family:'Liberation Sans',sans-serif;font-size:6.6px" fill="#111">10</text>
<line x1="24.0" y1="105.5" x2="30.5" y2="105.5" stroke="#555"/>
<line x1="681.5" y1="105.5" x2="675.0" y2="105.5" stroke="#555"/>
<text x="21.4" y="108.8" text-anchor="end" style="font-family:'Liberation Sans',sans-serif;font-size:6.6px" fill="#111">15</text>
<line x1="24.0" y1="61.5" x2="30.5" y2="61.5" stroke="#555"/>
<line x1="681.5" y1="61.5" x2="675.0" y2="61.5" stroke="#555"/>
<text x="21.4" y="64.8" text-anchor="end" style="font-family:'Liberation Sans',sans-serif;font-size:6.6px" fill="#111">20</text>
<text x="21.4" y="20.8" text-anchor="end" style="font-family:'Liberation Sans',sans-serif;font-size:6.6px" fill="#111">25</text>
<text x="353.2" y="259.0" text-anchor="middle" style="font-family:'Liberation Serif',serif;font-size:12.6px" fill="#000" stroke="#000" stroke-width="0.25">Actual Values</text>
<text transform="translate(8.4,128.3) rotate(-90)" text-anchor="middle" style="font-family:'Liberation Serif',serif;font-size:13px" fill="#000" stroke="#000" stroke-width="0.25">Predicted Values</text>
<text x="352.8" y="4.9" text-anchor="middle" style="font-family:'Liberation Sans',sans-serif;font-size:7.1px;font-weight:bold" fill="#000">Train set renderings</text>
<text x="354.6" y="13.7" text-anchor="middle" style="font-family:'Liberation Sans',sans-serif;font-size:7.1px;font-weight:bold" fill="#000">RMSE=0.62168</text>
<g fill="#0000ff">
<circle cx="29.6" cy="538.4" r="1.65"/>
<circle cx="32.9" cy="539.8" r="1.65"/>
<circle cx="57.2" cy="528.1" r="1.65"/>
<circle cx="43.0" cy="533.2" r="1.65"/>
<circle cx="33.7" cy="537.8" r="1.65"/>
<circle cx="43.6" cy="532.8" r="1.65"/>
<circle cx="34.6" cy="536.8" r="1.65"/>
<circle cx="51.8" cy="528.3" r="1.65"/>
<circle cx="39.9" cy="535.9" r="1.65"/>
<circle cx="51.3" cy="531.6" r="1.65"/>
<circle cx="44.6" cy="531.6" r="1.65"/>
<circle cx="32.8" cy="535.3" r="1.65"/>
<circle cx="32.4" cy="531.6" r="1.65"/>
<circle cx="41.0" cy="533.8" r="1.65"/>
<circle cx="55.9" cy="529.9" r="1.65"/>
<circle cx="50.9" cy="531.4" r="1.65"/>
<circle cx="54.7" cy="529.4" r="1.65"/>
<circle cx="46.4" cy="530.4" r="1.65"/>
<circle cx="36.1" cy="535.1" r="1.65"/>
<circle cx="51.4" cy="526.9" r="1.65"/>
<circle cx="54.6" cy="531.7" r="1.65"/>
<circle cx="61.8" cy="526.4" r="1.65"/>
<circle cx="37.9" cy="535.4" r="1.65"/>
<circle cx="52.4" cy="529.0" r="1.65"/>
<circle cx="58.5" cy="525.6" r="1.65"/>
<circle cx="56.1" cy="527.8" r="1.65"/>
<circle cx="55.7" cy="528.2" r="1.65"/>
<circle cx="45.5" cy="529.9" r="1.65"/>
<circle cx="28.1" cy="535.7" r="1.65"/>
<circle cx="51.0" cy="529.9" r="1.65"/>
<circle cx="64.5" cy="525.7" r="1.65"/>
<circle cx="72.7" cy="523.3" r="1.65"/>
<circle cx="90.6" cy="516.1" r="1.65"/>
<circle cx="90.6" cy="514.2" r="1.65"/>
<circle cx="79.1" cy="523.5" r="1.65"/>
<circle cx="67.3" cy="522.0" r="1.65"/>
<circle cx="83.5" cy="516.1" r="1.65"/>
<circle cx="70.2" cy="524.4" r="1.65"/>
<circle cx="88.4" cy="518.8" r="1.65"/>
<circle cx="71.1" cy="525.8" r="1.65"/>
<circle cx="72.1" cy="525.2" r="1.65"/>
<circle cx="87.3" cy="522.5" r="1.65"/>
<circle cx="63.2" cy="525.2" r="1.65"/>
<circle cx="86.5" cy="518.0" r="1.65"/>
<circle cx="77.5" cy="516.9" r="1.65"/>
<circle cx="91.6" cy="515.7" r="1.65"/>
<circle cx="87.9" cy="517.7" r="1.65"/>
<circle cx="84.2" cy="520.5" r="1.65"/>
<circle cx="82.3" cy="524.5" r="1.65"/>
<circle cx="69.1" cy="520.7" r="1.65"/>
<circle cx="77.6" cy="520.8" r="1.65"/>
<circle cx="98.7" cy="511.7" r="1.65"/>
<circle cx="62.5" cy="521.8" r="1.65"/>
<circle cx="98.0" cy="517.5" r="1.65"/>
<circle cx="81.2" cy="520.2" r="1.65"/>
<circle cx="74.1" cy="526.4" r="1.65"/>
<circle cx="88.5" cy="516.9" r="1.65"/>
<circle cx="84.3" cy="520.8" r="1.65"/>
<circle cx="91.3" cy="513.2" r="1.65"/>
<circle cx="83.7" cy="519.7" r="1.65"/>
<circle cx="81.9" cy="522.8" r="1.65"/>
<circle cx="95.2" cy="515.8" r="1.65"/>
<circle cx="81.4" cy="521.7" r="1.65"/>
<circle cx="63.4" cy="519.3" r="1.65"/>
<circle cx="89.7" cy="517.3" r="1.65"/>
<circle cx="70.3" cy="523.9" r="1.65"/>
<circle cx="80.7" cy="514.9" r="1.65"/>
<circle cx="75.5" cy="523.5" r="1.65"/>
<circle cx="91.9" cy="511.1" r="1.65"/>
<circle cx="99.1" cy="517.9" r="1.65"/>
<circle cx="68.1" cy="525.1" r="1.65"/>
<circle cx="74.7" cy="521.2" r="1.65"/>
<circle cx="95.7" cy="515.0" r="1.65"/>
<circle cx="62.2" cy="526.8" r="1.65"/>
<circle cx="99.5" cy="518.8" r="1.65"/>
<circle cx="74.9" cy="516.8" r="1.65"/>
<circle cx="73.6" cy="522.4" r="1.65"/>
<circle cx="84.8" cy="518.3" r="1.65"/>
<circle cx="67.8" cy="526.5" r="1.65"/>
<circle cx="71.0" cy="528.0" r="1.65"/>
<circle cx="99.6" cy="512.4" r="1.65"/>
<circle cx="86.4" cy="515.3" r="1.65"/>
<circle cx="71.1" cy="524.4" r="1.65"/>
<circle cx="96.5" cy="515.1" r="1.65"/>
<circle cx="82.3" cy="517.1" r="1.65"/>
<circle cx="76.7" cy="519.7" r="1.65"/>
<circle cx="68.3" cy="522.1" r="1.65"/>
<circle cx="73.8" cy="525.9" r="1.65"/>
<circle cx="92.2" cy="516.4" r="1.65"/>
<circle cx="65.5" cy="524.8" r="1.65"/>
<circle cx="94.2" cy="514.6" r="1.65"/>
<circle cx="82.1" cy="519.7" r="1.65"/>
<circle cx="82.9" cy="518.9" r="1.65"/>
<circle cx="97.4" cy="511.9" r="1.65"/>
<circle cx="62.6" cy="529.8" r="1.65"/>
<circle cx="76.3" cy="519.1" r="1.65"/>
<circle cx="65.9" cy="528.0" r="1.65"/>
<circle cx="87.3" cy="521.7" r="1.65"/>
<circle cx="82.1" cy="521.1" r="1.65"/>
<circle cx="80.5" cy="521.2" r="1.65"/>
<circle cx="66.1" cy="525.1" r="1.65"/>
<circle cx="70.6" cy="524.4" r="1.65"/>
<circle cx="83.0" cy="519.9" r="1.65"/>
<circle cx="73.4" cy="522.4" r="1.65"/>
<circle cx="74.6" cy="523.0" r="1.65"/>
<circle cx="62.0" cy="529.4" r="1.65"/>
<circle cx="69.2" cy="523.7" r="1.65"/>
<circle cx="73.3" cy="528.4" r="1.65"/>
<circle cx="88.2" cy="518.4" r="1.65"/>
<circle cx="78.5" cy="516.9" r="1.65"/>
<circle cx="73.9" cy="520.1" r="1.65"/>
<circle cx="73.6" cy="522.4" r="1.65"/>
<circle cx="76.2" cy="525.5" r="1.65"/>
<circle cx="77.2" cy="523.0" r="1.65"/>
<circle cx="64.3" cy="525.3" r="1.65"/>
<circle cx="81.0" cy="521.2" r="1.65"/>
<circle cx="82.9" cy="521.3" r="1.65"/>
<circle cx="83.7" cy="519.2" r="1.65"/>
<circle cx="92.1" cy="516.9" r="1.65"/>
<circle cx="84.1" cy="522.4" r="1.65"/>
<circle cx="66.3" cy="519.5" r="1.65"/>
<circle cx="96.6" cy="517.2" r="1.65"/>
<circle cx="96.5" cy="519.4" r="1.65"/>
<circle cx="90.0" cy="517.7" r="1.65"/>
<circle cx="73.9" cy="523.0" r="1.65"/>
<circle cx="75.2" cy="526.5" r="1.65"/>
<circle cx="96.8" cy="512.9" r="1.65"/>
<circle cx="88.6" cy="523.0" r="1.65"/>
<circle cx="76.6" cy="520.4" r="1.65"/>
<circle cx="89.4" cy="511.7" r="1.65"/>
<circle cx="72.7" cy="525.9" r="1.65"/>
<circle cx="90.9" cy="519.6" r="1.65"/>
<circle cx="85.2" cy="519.4" r="1.65"/>
<circle cx="88.9" cy="521.8" r="1.65"/>
<circle cx="76.9" cy="520.3" r="1.65"/>
<circle cx="98.5" cy="510.7" r="1.65"/>
<circle cx="62.7" cy="530.7" r="1.65"/>
<circle cx="67.2" cy="523.6" r="1.65"/>
<circle cx="68.3" cy="521.8" r="1.65"/>
<circle cx="84.1" cy="522.1" r="1.65"/>
<circle cx="122.9" cy="505.4" r="1.65"/>
<circle cx="105.9" cy="510.4" r="1.65"/>
<circle cx="120.3" cy="512.0" r="1.65"/>
<circle cx="125.5" cy="506.0" r="1.65"/>
<circle cx="101.1" cy="512.5" r="1.65"/>
<circle cx="114.8" cy="509.8" r="1.65"/>
<circle cx="118.3" cy="511.6" r="1.65"/>
<circle cx="126.1" cy="503.3" r="1.65"/>
<circle cx="109.8" cy="514.5" r="1.65"/>
<circle cx="121.5" cy="510.8" r="1.65"/>
<circle cx="121.2" cy="510.6" r="1.65"/>
<circle cx="107.6" cy="513.2" r="1.65"/>
<circle cx="114.1" cy="512.2" r="1.65"/>
<circle cx="101.4" cy="512.6" r="1.65"/>
<circle cx="126.9" cy="510.2" r="1.65"/>
<circle cx="101.2" cy="510.5" r="1.65"/>
<circle cx="107.8" cy="515.9" r="1.65"/>
<circle cx="103.7" cy="520.6" r="1.65"/>
<circle cx="103.8" cy="515.0" r="1.65"/>
<circle cx="105.9" cy="519.1" r="1.65"/>
<circle cx="129.5" cy="503.7" r="1.65"/>
<circle cx="105.8" cy="517.8" r="1.65"/>
<circle cx="108.8" cy="520.1" r="1.65"/>
<circle cx="107.3" cy="503.9" r="1.65"/>
<circle cx="110.5" cy="513.8" r="1.65"/>
<circle cx="111.5" cy="512.1" r="1.65"/>
<circle cx="115.6" cy="507.1" r="1.65"/>
<circle cx="104.7" cy="512.2" r="1.65"/>
<circle cx="116.7" cy="507.8" r="1.65"/>
<circle cx="129.2" cy="508.1" r="1.65"/>
<circle cx="117.6" cy="517.8" r="1.65"/>
<circle cx="129.1" cy="506.4" r="1.65"/>
<circle cx="111.7" cy="512.9" r="1.65"/>
<circle cx="127.6" cy="505.8" r="1.65"/>
<circle cx="105.1" cy="516.8" r="1.65"/>
<circle cx="128.8" cy="501.8" r="1.65"/>
<circle cx="109.1" cy="507.5" r="1.65"/>
<circle cx="103.9" cy="507.2" r="1.65"/>
<circle cx="105.6" cy="511.6" r="1.65"/>
<circle cx="101.6" cy="513.9" r="1.65"/>
<circle cx="100.5" cy="512.1" r="1.65"/>
<circle cx="114.0" cy="514.6" r="1.65"/>
<circle cx="118.1" cy="510.7" r="1.65"/>
<circle cx="117.0" cy="509.8" r="1.65"/>
<circle cx="104.7" cy="514.8" r="1.65"/>
<circle cx="119.6" cy="508.8" r="1.65"/>
<circle cx="128.8" cy="505.3" r="1.65"/>
<circle cx="105.8" cy="513.2" r="1.65"/>
<circle cx="120.4" cy="509.0" r="1.65"/>
<circle cx="114.0" cy="508.3" r="1.65"/>
<circle cx="101.1" cy="509.2" r="1.65"/>
<circle cx="115.0" cy="508.8" r="1.65"/>
<circle cx="123.6" cy="507.9" r="1.65"/>
<circle cx="114.1" cy="515.5" r="1.65"/>
<circle cx="118.1" cy="512.5" r="1.65"/>
<circle cx="118.6" cy="510.6" r="1.65"/>
<circle cx="107.0" cy="512.2" r="1.65"/>
<circle cx="112.5" cy="510.8" r="1.65"/>
<circle cx="128.2" cy="503.4" r="1.65"/>
<circle cx="126.1" cy="503.3" r="1.65"/>
<circle cx="120.8" cy="505.0" r="1.65"/>
<circle cx="126.2" cy="506.3" r="1.65"/>
<circle cx="116.9" cy="506.3" r="1.65"/>
<circle cx="104.6" cy="513.9" r="1.65"/>
<circle cx="105.7" cy="509.9" r="1.65"/>
<circle cx="123.2" cy="504.9" r="1.65"/>
<circle cx="113.5" cy="507.4" r="1.65"/>
<circle cx="107.5" cy="515.5" r="1.65"/>
<circle cx="128.8" cy="503.7" r="1.65"/>
<circle cx="114.7" cy="508.1" r="1.65"/>
<circle cx="125.2" cy="511.8" r="1.65"/>
<circle cx="126.3" cy="504.9" r="1.65"/>
<circle cx="124.2" cy="504.8" r="1.65"/>
<circle cx="114.0" cy="513.1" r="1.65"/>
<circle cx="101.6" cy="511.0" r="1.65"/>
<circle cx="123.6" cy="505.0" r="1.65"/>
<circle cx="110.2" cy="517.3" r="1.65"/>
<circle cx="117.4" cy="508.6" r="1.65"/>
<circle cx="106.8" cy="517.6" r="1.65"/>
<circle cx="119.0" cy="506.8" r="1.65"/>
<circle cx="105.8" cy="513.9" r="1.65"/>
<circle cx="127.5" cy="508.2" r="1.65"/>
<circle cx="113.3" cy="509.2" r="1.65"/>
<circle cx="124.4" cy="502.1" r="1.65"/>
<circle cx="108.7" cy="514.9" r="1.65"/>
<circle cx="104.2" cy="522.1" r="1.65"/>
<circle cx="130.0" cy="504.7" r="1.65"/>
<circle cx="109.0" cy="512.6" r="1.65"/>
<circle cx="123.0" cy="506.0" r="1.65"/>
<circle cx="102.3" cy="515.4" r="1.65"/>
<circle cx="101.5" cy="511.7" r="1.65"/>
<circle cx="120.3" cy="507.0" r="1.65"/>
<circle cx="103.8" cy="513.0" r="1.65"/>
<circle cx="109.8" cy="516.1" r="1.65"/>
<circle cx="120.8" cy="507.9" r="1.65"/>
<circle cx="119.9" cy="514.2" r="1.65"/>
<circle cx="112.4" cy="510.2" r="1.65"/>
<circle cx="127.6" cy="503.0" r="1.65"/>
<circle cx="122.2" cy="506.3" r="1.65"/>
<circle cx="118.8" cy="515.4" r="1.65"/>
<circle cx="125.9" cy="504.7" r="1.65"/>
<circle cx="116.3" cy="502.5" r="1.65"/>
<circle cx="110.3" cy="511.0" r="1.65"/>
<circle cx="115.7" cy="502.2" r="1.65"/>
<circle cx="121.5" cy="505.6" r="1.65"/>
<circle cx="106.0" cy="511.3" r="1.65"/>
<circle cx="118.7" cy="510.8" r="1.65"/>
<circle cx="123.3" cy="510.7" r="1.65"/>
<circle cx="111.4" cy="503.3" r="1.65"/>
<circle cx="117.7" cy="512.9" r="1.65"/>
<circle cx="116.2" cy="511.7" r="1.65"/>
<circle cx="111.1" cy="516.8" r="1.65"/>
<circle cx="121.5" cy="514.2" r="1.65"/>
<circle cx="106.6" cy="511.1" r="1.65"/>
<circle cx="127.9" cy="504.9" r="1.65"/>
<circle cx="101.3" cy="512.9" r="1.65"/>
<circle cx="107.4" cy="509.3" r="1.65"/>
<circle cx="100.1" cy="513.1" r="1.65"/>
<circle cx="128.5" cy="511.7" r="1.65"/>
<circle cx="114.9" cy="512.8" r="1.65"/>
<circle cx="124.0" cy="509.2" r="1.65"/>
<circle cx="111.3" cy="506.5" r="1.65"/>
<circle cx="115.6" cy="510.8" r="1.65"/>
<circle cx="100.7" cy="517.4" r="1.65"/>
<circle cx="111.0" cy="515.9" r="1.65"/>
<circle cx="101.9" cy="511.4" r="1.65"/>
<circle cx="110.3" cy="507.9" r="1.65"/>
<circle cx="115.3" cy="511.7" r="1.65"/>
<circle cx="125.1" cy="508.5" r="1.65"/>
<circle cx="119.4" cy="513.3" r="1.65"/>
<circle cx="100.5" cy="515.9" r="1.65"/>
<circle cx="118.5" cy="510.4" r="1.65"/>
<circle cx="125.8" cy="511.4" r="1.65"/>
<circle cx="116.4" cy="505.3" r="1.65"/>
<circle cx="118.6" cy="507.5" r="1.65"/>
<circle cx="114.5" cy="507.9" r="1.65"/>
<circle cx="104.0" cy="512.2" r="1.65"/>
<circle cx="128.7" cy="508.5" r="1.65"/>
<circle cx="106.3" cy="511.9" r="1.65"/>
<circle cx="101.8" cy="514.6" r="1.65"/>
<circle cx="115.5" cy="506.5" r="1.65"/>
<circle cx="129.6" cy="503.1" r="1.65"/>
<circle cx="114.3" cy="505.5" r="1.65"/>
<circle cx="103.9" cy="508.9" r="1.65"/>
<circle cx="123.1" cy="512.2" r="1.65"/>
<circle cx="122.8" cy="512.8" r="1.65"/>
<circle cx="123.4" cy="508.1" r="1.65"/>
<circle cx="102.5" cy="513.5" r="1.65"/>
<circle cx="112.5" cy="517.8" r="1.65"/>
<circle cx="105.3" cy="516.4" r="1.65"/>
<circle cx="107.0" cy="512.6" r="1.65"/>
<circle cx="125.8" cy="505.0" r="1.65"/>
<circle cx="110.6" cy="505.3" r="1.65"/>
<circle cx="102.2" cy="513.0" r="1.65"/>
<circle cx="107.6" cy="508.7" r="1.65"/>
<circle cx="108.8" cy="515.9" r="1.65"/>
<circle cx="112.6" cy="512.1" r="1.65"/>
<circle cx="112.6" cy="515.4" r="1.65"/>
<circle cx="119.5" cy="513.1" r="1.65"/>
<circle cx="128.3" cy="506.0" r="1.65"/>
<circle cx="107.2" cy="513.2" r="1.65"/>
<circle cx="104.4" cy="519.5" r="1.65"/>
<circle cx="115.3" cy="508.3" r="1.65"/>
<circle cx="109.9" cy="513.0" r="1.65"/>
<circle cx="124.0" cy="505.5" r="1.65"/>
<circle cx="117.7" cy="507.4" r="1.65"/>
<circle cx="129.9" cy="508.3" r="1.65"/>
<circle cx="104.0" cy="518.4" r="1.65"/>
<circle cx="107.8" cy="515.8" r="1.65"/>
<circle cx="119.7" cy="511.7" r="1.65"/>
<circle cx="121.4" cy="504.2" r="1.65"/>
<circle cx="105.7" cy="510.7" r="1.65"/>
<circle cx="107.9" cy="518.9" r="1.65"/>
<circle cx="102.8" cy="521.4" r="1.65"/>
<circle cx="125.5" cy="501.7" r="1.65"/>
<circle cx="113.1" cy="515.3" r="1.65"/>
<circle cx="128.3" cy="505.4" r="1.65"/>
<circle cx="101.5" cy="508.8" r="1.65"/>
<circle cx="120.3" cy="513.0" r="1.65"/>
<circle cx="111.7" cy="512.1" r="1.65"/>
<circle cx="104.4" cy="510.8" r="1.65"/>
<circle cx="114.2" cy="510.9" r="1.65"/>
<circle cx="118.5" cy="511.9" r="1.65"/>
<circle cx="112.7" cy="513.5" r="1.65"/>
<circle cx="127.3" cy="508.6" r="1.65"/>
<circle cx="110.9" cy="510.5" r="1.65"/>
<circle cx="113.7" cy="507.2" r="1.65"/>
<circle cx="125.8" cy="514.1" r="1.65"/>
<circle cx="105.3" cy="516.5" r="1.65"/>
<circle cx="126.0" cy="500.9" r="1.65"/>
<circle cx="132.7" cy="507.0" r="1.65"/>
<circle cx="136.4" cy="499.1" r="1.65"/>
<circle cx="153.4" cy="492.0" r="1.65"/>
<circle cx="148.4" cy="495.4" r="1.65"/>
<circle cx="151.7" cy="498.6" r="1.65"/>
<circle cx="132.9" cy="501.0" r="1.65"/>
<circle cx="156.9" cy="499.8" r="1.65"/>
<circle cx="159.7" cy="498.6" r="1.65"/>
<circle cx="140.5" cy="501.5" r="1.65"/>
<circle cx="136.1" cy="506.8" r="1.65"/>
<circle cx="152.5" cy="497.4" r="1.65"/>
<circle cx="147.9" cy="500.7" r="1.65"/>
<circle cx="137.8" cy="503.0" r="1.65"/>
<circle cx="155.2" cy="497.6" r="1.65"/>
<circle cx="141.3" cy="498.2" r="1.65"/>
<circle cx="156.1" cy="494.3" r="1.65"/>
<circle cx="132.0" cy="500.1" r="1.65"/>
<circle cx="138.5" cy="497.4" r="1.65"/>
<circle cx="143.0" cy="499.3" r="1.65"/>
<circle cx="158.4" cy="498.6" r="1.65"/>
<circle cx="136.9" cy="502.9" r="1.65"/>
<circle cx="153.4" cy="496.5" r="1.65"/>
<circle cx="132.4" cy="504.8" r="1.65"/>
<circle cx="136.5" cy="501.8" r="1.65"/>
<circle cx="137.9" cy="501.4" r="1.65"/>
<circle cx="145.1" cy="506.4" r="1.65"/>
<circle cx="131.4" cy="506.3" r="1.65"/>
<circle cx="151.3" cy="501.7" r="1.65"/>
<circle cx="149.2" cy="492.4" r="1.65"/>
<circle cx="158.4" cy="496.7" r="1.65"/>
<circle cx="158.5" cy="503.9" r="1.65"/>
<circle cx="159.6" cy="495.1" r="1.65"/>
<circle cx="151.5" cy="496.5" r="1.65"/>
<circle cx="141.7" cy="496.9" r="1.65"/>
<circle cx="155.1" cy="491.2" r="1.65"/>
<circle cx="143.2" cy="506.2" r="1.65"/>
<circle cx="130.7" cy="507.4" r="1.65"/>
<circle cx="130.1" cy="501.8" r="1.65"/>
<circle cx="154.5" cy="499.2" r="1.65"/>
<circle cx="143.9" cy="493.6" r="1.65"/>
<circle cx="135.0" cy="504.5" r="1.65"/>
<circle cx="150.2" cy="503.0" r="1.65"/>
<circle cx="146.7" cy="499.9" r="1.65"/>
<circle cx="159.2" cy="497.7" r="1.65"/>
<circle cx="159.9" cy="499.5" r="1.65"/>
<circle cx="132.3" cy="502.9" r="1.65"/>
<circle cx="136.6" cy="496.2" r="1.65"/>
<circle cx="150.9" cy="496.0" r="1.65"/>
<circle cx="133.2" cy="508.6" r="1.65"/>
<circle cx="142.9" cy="498.4" r="1.65"/>
<circle cx="153.1" cy="493.9" r="1.65"/>
<circle cx="130.8" cy="507.4" r="1.65"/>
<circle cx="132.3" cy="507.9" r="1.65"/>
<circle cx="153.7" cy="495.8" r="1.65"/>
<circle cx="141.1" cy="500.2" r="1.65"/>
<circle cx="156.9" cy="497.5" r="1.65"/>
<circle cx="137.6" cy="503.0" r="1.65"/>
<circle cx="139.1" cy="500.0" r="1.65"/>
<circle cx="132.7" cy="501.7" r="1.65"/>
<circle cx="148.8" cy="491.5" r="1.65"/>
<circle cx="149.3" cy="499.0" r="1.65"/>
<circle cx="133.4" cy="513.0" r="1.65"/>
<circle cx="137.5" cy="498.1" r="1.65"/>
<circle cx="138.6" cy="500.3" r="1.65"/>
<circle cx="147.7" cy="500.3" r="1.65"/>
<circle cx="142.8" cy="501.8" r="1.65"/>
<circle cx="147.3" cy="502.5" r="1.65"/>
<circle cx="158.1" cy="493.3" r="1.65"/>
<circle cx="153.0" cy="503.3" r="1.65"/>
<circle cx="142.7" cy="500.1" r="1.65"/>
<circle cx="149.1" cy="497.9" r="1.65"/>
<circle cx="135.2" cy="501.0" r="1.65"/>
<circle cx="139.7" cy="500.9" r="1.65"/>
<circle cx="140.7" cy="501.4" r="1.65"/>
<circle cx="134.3" cy="507.4" r="1.65"/>
<circle cx="147.1" cy="498.1" r="1.65"/>
<circle cx="134.2" cy="495.1" r="1.65"/>
<circle cx="155.0" cy="499.8" r="1.65"/>
<circle cx="157.4" cy="500.0" r="1.65"/>
<circle cx="154.3" cy="503.4" r="1.65"/>
<circle cx="141.4" cy="497.1" r="1.65"/>
<circle cx="139.0" cy="508.8" r="1.65"/>
<circle cx="137.9" cy="500.0" r="1.65"/>
<circle cx="143.1" cy="497.6" r="1.65"/>
<circle cx="142.7" cy="499.8" r="1.65"/>
<circle cx="143.5" cy="495.2" r="1.65"/>
<circle cx="158.2" cy="495.6" r="1.65"/>
<circle cx="141.7" cy="504.3" r="1.65"/>
<circle cx="130.1" cy="501.1" r="1.65"/>
<circle cx="138.0" cy="502.5" r="1.65"/>
<circle cx="143.5" cy="496.1" r="1.65"/>
<circle cx="146.3" cy="500.5" r="1.65"/>
<circle cx="140.3" cy="497.1" r="1.65"/>
<circle cx="132.1" cy="510.0" r="1.65"/>
<circle cx="156.7" cy="497.9" r="1.65"/>
<circle cx="143.0" cy="502.6" r="1.65"/>
<circle cx="159.6" cy="495.7" r="1.65"/>
<circle cx="152.8" cy="498.9" r="1.65"/>
<circle cx="145.3" cy="505.3" r="1.65"/>
<circle cx="147.5" cy="505.1" r="1.65"/>
<circle cx="150.3" cy="502.4" r="1.65"/>
<circle cx="131.4" cy="508.0" r="1.65"/>
<circle cx="137.7" cy="492.5" r="1.65"/>
<circle cx="158.0" cy="491.3" r="1.65"/>
<circle cx="135.8" cy="509.8" r="1.65"/>
<circle cx="132.9" cy="500.1" r="1.65"/>
<circle cx="131.7" cy="508.3" r="1.65"/>
<circle cx="137.7" cy="514.8" r="1.65"/>
<circle cx="146.2" cy="498.0" r="1.65"/>
<circle cx="140.1" cy="498.7" r="1.65"/>
<circle cx="146.9" cy="500.6" r="1.65"/>
<circle cx="131.0" cy="502.5" r="1.65"/>
<circle cx="143.5" cy="507.6" r="1.65"/>
<circle cx="132.3" cy="502.5" r="1.65"/>
<circle cx="151.8" cy="503.7" r="1.65"/>
<circle cx="130.9" cy="501.2" r="1.65"/>
<circle cx="130.4" cy="496.7" r="1.65"/>
<circle cx="157.2" cy="498.8" r="1.65"/>
<circle cx="139.0" cy="508.5" r="1.65"/>
<circle cx="142.6" cy="499.1" r="1.65"/>
<circle cx="135.5" cy="505.7" r="1.65"/>
<circle cx="132.5" cy="506.9" r="1.65"/>
<circle cx="145.1" cy="492.8" r="1.65"/>
<circle cx="132.3" cy="498.2" r="1.65"/>
<circle cx="132.8" cy="502.7" r="1.65"/>
<circle cx="134.6" cy="502.4" r="1.65"/>
<circle cx="147.6" cy="497.3" r="1.65"/>
<circle cx="141.0" cy="495.8" r="1.65"/>
<circle cx="134.1" cy="510.2" r="1.65"/>
<circle cx="151.9" cy="498.5" r="1.65"/>
<circle cx="171.9" cy="494.8" r="1.65"/>
<circle cx="164.0" cy="495.6" r="1.65"/>
<circle cx="174.5" cy="486.7" r="1.65"/>
<circle cx="164.7" cy="497.9" r="1.65"/>
<circle cx="189.0" cy="486.1" r="1.65"/>
<circle cx="180.2" cy="488.4" r="1.65"/>
<circle cx="189.5" cy="489.2" r="1.65"/>
<circle cx="164.5" cy="487.5" r="1.65"/>
<circle cx="165.9" cy="491.7" r="1.65"/>
<circle cx="165.1" cy="495.4" r="1.65"/>
<circle cx="169.1" cy="489.0" r="1.65"/>
<circle cx="184.2" cy="488.8" r="1.65"/>
<circle cx="185.0" cy="489.2" r="1.65"/>
<circle cx="181.9" cy="490.6" r="1.65"/>
<circle cx="161.1" cy="498.7" r="1.65"/>
<circle cx="173.4" cy="488.3" r="1.65"/>
<circle cx="172.1" cy="494.2" r="1.65"/>
<circle cx="173.2" cy="487.4" r="1.65"/>
<circle cx="188.6" cy="486.7" r="1.65"/>
<circle cx="187.8" cy="489.1" r="1.65"/>
<circle cx="185.2" cy="487.4" r="1.65"/>
<circle cx="164.4" cy="485.6" r="1.65"/>
<circle cx="180.2" cy="474.1" r="1.65"/>
<circle cx="189.3" cy="484.3" r="1.65"/>
<circle cx="171.9" cy="491.8" r="1.65"/>
<circle cx="172.2" cy="487.0" r="1.65"/>
<circle cx="181.6" cy="492.2" r="1.65"/>
<circle cx="165.8" cy="488.0" r="1.65"/>
<circle cx="162.0" cy="498.2" r="1.65"/>
<circle cx="177.4" cy="487.0" r="1.65"/>
<circle cx="181.1" cy="493.2" r="1.65"/>
<circle cx="178.5" cy="486.2" r="1.65"/>
<circle cx="173.7" cy="487.6" r="1.65"/>
<circle cx="177.0" cy="483.1" r="1.65"/>
<circle cx="189.0" cy="479.4" r="1.65"/>
<circle cx="189.9" cy="490.5" r="1.65"/>
<circle cx="182.1" cy="483.3" r="1.65"/>
<circle cx="171.2" cy="493.4" r="1.65"/>
<circle cx="184.1" cy="486.7" r="1.65"/>
<circle cx="171.3" cy="488.3" r="1.65"/>
<circle cx="182.8" cy="490.2" r="1.65"/>
<circle cx="176.8" cy="494.3" r="1.65"/>
<circle cx="165.0" cy="487.5" r="1.65"/>
<circle cx="163.3" cy="499.5" r="1.65"/>
<circle cx="174.3" cy="492.8" r="1.65"/>
<circle cx="183.7" cy="486.3" r="1.65"/>
<circle cx="172.2" cy="498.5" r="1.65"/>
<circle cx="182.4" cy="483.3" r="1.65"/>
<circle cx="166.1" cy="495.6" r="1.65"/>
<circle cx="184.1" cy="485.0" r="1.65"/>
<circle cx="180.0" cy="485.0" r="1.65"/>
<circle cx="182.9" cy="484.3" r="1.65"/>
<circle cx="189.4" cy="489.6" r="1.65"/>
<circle cx="167.7" cy="486.6" r="1.65"/>
<circle cx="167.4" cy="491.8" r="1.65"/>
<circle cx="186.8" cy="481.4" r="1.65"/>
<circle cx="175.1" cy="490.1" r="1.65"/>
<circle cx="187.9" cy="485.1" r="1.65"/>
<circle cx="168.7" cy="491.4" r="1.65"/>
<circle cx="179.1" cy="483.0" r="1.65"/>
<circle cx="173.3" cy="490.8" r="1.65"/>
<circle cx="170.8" cy="483.3" r="1.65"/>
<circle cx="181.6" cy="481.8" r="1.65"/>
<circle cx="175.5" cy="488.1" r="1.65"/>
<circle cx="180.4" cy="489.6" r="1.65"/>
<circle cx="185.6" cy="489.3" r="1.65"/>
<circle cx="165.3" cy="491.8" r="1.65"/>
<circle cx="174.4" cy="485.5" r="1.65"/>
<circle cx="167.8" cy="491.5" r="1.65"/>
<circle cx="170.4" cy="488.7" r="1.65"/>
<circle cx="162.8" cy="492.1" r="1.65"/>
<circle cx="175.9" cy="489.6" r="1.65"/>
<circle cx="175.2" cy="490.7" r="1.65"/>
<circle cx="171.5" cy="491.8" r="1.65"/>
<circle cx="187.7" cy="480.1" r="1.65"/>
<circle cx="165.9" cy="492.1" r="1.65"/>
<circle cx="183.0" cy="495.8" r="1.65"/>
<circle cx="178.2" cy="493.2" r="1.65"/>
<circle cx="172.3" cy="492.1" r="1.65"/>
<circle cx="170.9" cy="489.0" r="1.65"/>
<circle cx="203.0" cy="478.5" r="1.65"/>
<circle cx="204.9" cy="474.1" r="1.65"/>
<circle cx="214.9" cy="476.9" r="1.65"/>
<circle cx="205.5" cy="488.4" r="1.65"/>
<circle cx="193.0" cy="482.3" r="1.65"/>
<circle cx="219.2" cy="471.3" r="1.65"/>
<circle cx="210.5" cy="479.5" r="1.65"/>
<circle cx="199.7" cy="489.4" r="1.65"/>
<circle cx="218.6" cy="477.2" r="1.65"/>
<circle cx="208.8" cy="477.5" r="1.65"/>
<circle cx="198.3" cy="479.9" r="1.65"/>
<circle cx="208.2" cy="479.0" r="1.65"/>
<circle cx="215.4" cy="473.3" r="1.65"/>
<circle cx="206.0" cy="483.5" r="1.65"/>
<circle cx="211.0" cy="481.2" r="1.65"/>
<circle cx="200.9" cy="479.8" r="1.65"/>
<circle cx="204.3" cy="475.7" r="1.65"/>
<circle cx="219.5" cy="460.9" r="1.65"/>
<circle cx="199.1" cy="488.0" r="1.65"/>
<circle cx="196.2" cy="486.5" r="1.65"/>
<circle cx="210.4" cy="479.4" r="1.65"/>
<circle cx="211.7" cy="479.9" r="1.65"/>
<circle cx="218.6" cy="471.7" r="1.65"/>
<circle cx="214.2" cy="478.6" r="1.65"/>
<circle cx="205.5" cy="481.0" r="1.65"/>
<circle cx="197.2" cy="483.3" r="1.65"/>
<circle cx="212.7" cy="475.1" r="1.65"/>
<circle cx="205.0" cy="477.3" r="1.65"/>
<circle cx="213.2" cy="479.0" r="1.65"/>
<circle cx="207.5" cy="472.7" r="1.65"/>
<circle cx="204.6" cy="482.7" r="1.65"/>
<circle cx="197.7" cy="479.8" r="1.65"/>
<circle cx="199.0" cy="477.9" r="1.65"/>
<circle cx="198.2" cy="483.5" r="1.65"/>
<circle cx="201.3" cy="481.2" r="1.65"/>
<circle cx="193.9" cy="480.6" r="1.65"/>
<circle cx="196.8" cy="486.3" r="1.65"/>
<circle cx="215.0" cy="484.6" r="1.65"/>
<circle cx="214.8" cy="480.9" r="1.65"/>
<circle cx="211.9" cy="476.4" r="1.65"/>
<circle cx="195.9" cy="481.2" r="1.65"/>
<circle cx="202.0" cy="484.0" r="1.65"/>
<circle cx="202.2" cy="473.1" r="1.65"/>
<circle cx="213.1" cy="474.9" r="1.65"/>
<circle cx="216.2" cy="475.8" r="1.65"/>
<circle cx="208.7" cy="475.2" r="1.65"/>
<circle cx="197.3" cy="477.7" r="1.65"/>
<circle cx="217.6" cy="473.4" r="1.65"/>
<circle cx="203.9" cy="475.9" r="1.65"/>
<circle cx="205.3" cy="478.9" r="1.65"/>
<circle cx="207.8" cy="484.5" r="1.65"/>
<circle cx="205.3" cy="484.7" r="1.65"/>
<circle cx="197.0" cy="481.8" r="1.65"/>
<circle cx="211.2" cy="475.5" r="1.65"/>
<circle cx="201.3" cy="481.1" r="1.65"/>
<circle cx="217.0" cy="474.1" r="1.65"/>
<circle cx="208.9" cy="476.4" r="1.65"/>
<circle cx="199.8" cy="476.6" r="1.65"/>
<circle cx="207.9" cy="475.8" r="1.65"/>
<circle cx="205.8" cy="486.1" r="1.65"/>
<circle cx="212.9" cy="475.9" r="1.65"/>
<circle cx="204.4" cy="476.3" r="1.65"/>
<circle cx="192.3" cy="483.9" r="1.65"/>
<circle cx="219.4" cy="474.7" r="1.65"/>
<circle cx="203.9" cy="474.4" r="1.65"/>
<circle cx="196.6" cy="485.0" r="1.65"/>
<circle cx="193.3" cy="484.3" r="1.65"/>
<circle cx="198.7" cy="481.6" r="1.65"/>
<circle cx="197.1" cy="478.0" r="1.65"/>
<circle cx="216.7" cy="475.7" r="1.65"/>
<circle cx="205.7" cy="481.7" r="1.65"/>
<circle cx="206.7" cy="474.5" r="1.65"/>
<circle cx="219.6" cy="482.0" r="1.65"/>
<circle cx="216.4" cy="478.2" r="1.65"/>
<circle cx="191.7" cy="486.3" r="1.65"/>
<circle cx="198.4" cy="481.6" r="1.65"/>
<circle cx="209.6" cy="474.1" r="1.65"/>
<circle cx="205.2" cy="483.7" r="1.65"/>
<circle cx="200.8" cy="480.2" r="1.65"/>
<circle cx="195.6" cy="487.1" r="1.65"/>
<circle cx="204.8" cy="480.1" r="1.65"/>
<circle cx="210.3" cy="482.1" r="1.65"/>
<circle cx="204.1" cy="479.8" r="1.65"/>
<circle cx="191.6" cy="477.0" r="1.65"/>
<circle cx="207.5" cy="472.8" r="1.65"/>
<circle cx="204.2" cy="478.7" r="1.65"/>
<circle cx="215.7" cy="474.6" r="1.65"/>
<circle cx="192.5" cy="476.6" r="1.65"/>
<circle cx="201.9" cy="481.3" r="1.65"/>
<circle cx="206.7" cy="487.4" r="1.65"/>
<circle cx="220.4" cy="472.8" r="1.65"/>
<circle cx="260.4" cy="467.3" r="1.65"/>
<circle cx="263.0" cy="463.1" r="1.65"/>
<circle cx="232.5" cy="470.4" r="1.65"/>
<circle cx="245.3" cy="465.2" r="1.65"/>
<circle cx="255.6" cy="461.3" r="1.65"/>
<circle cx="233.2" cy="468.3" r="1.65"/>
<circle cx="234.6" cy="465.3" r="1.65"/>
<circle cx="240.4" cy="466.4" r="1.65"/>
<circle cx="234.5" cy="465.9" r="1.65"/>
<circle cx="265.0" cy="458.3" r="1.65"/>
<circle cx="224.8" cy="476.0" r="1.65"/>
<circle cx="265.5" cy="458.2" r="1.65"/>
<circle cx="244.4" cy="461.8" r="1.65"/>
<circle cx="229.1" cy="476.7" r="1.65"/>
<circle cx="259.2" cy="462.4" r="1.65"/>
<circle cx="267.5" cy="460.4" r="1.65"/>
<circle cx="223.3" cy="474.6" r="1.65"/>
<circle cx="227.4" cy="472.6" r="1.65"/>
<circle cx="259.0" cy="456.6" r="1.65"/>
<circle cx="238.5" cy="472.4" r="1.65"/>
<circle cx="267.8" cy="465.8" r="1.65"/>
<circle cx="225.7" cy="474.8" r="1.65"/>
<circle cx="235.4" cy="470.5" r="1.65"/>
<circle cx="251.6" cy="463.7" r="1.65"/>
<circle cx="228.3" cy="469.8" r="1.65"/>
<circle cx="245.7" cy="477.4" r="1.65"/>
<circle cx="222.7" cy="472.6" r="1.65"/>
<circle cx="225.4" cy="477.7" r="1.65"/>
<circle cx="241.6" cy="468.9" r="1.65"/>
<circle cx="255.5" cy="459.8" r="1.65"/>
<circle cx="257.1" cy="469.0" r="1.65"/>
<circle cx="233.8" cy="475.0" r="1.65"/>
<circle cx="220.2" cy="472.9" r="1.65"/>
<circle cx="256.1" cy="459.8" r="1.65"/>
<circle cx="247.7" cy="461.0" r="1.65"/>
<circle cx="239.1" cy="468.0" r="1.65"/>
<circle cx="221.9" cy="469.1" r="1.65"/>
<circle cx="240.4" cy="465.3" r="1.65"/>
<circle cx="252.0" cy="465.2" r="1.65"/>
<circle cx="231.8" cy="475.9" r="1.65"/>
<circle cx="229.4" cy="469.7" r="1.65"/>
<circle cx="236.9" cy="471.3" r="1.65"/>
<circle cx="239.5" cy="472.5" r="1.65"/>
<circle cx="231.6" cy="470.6" r="1.65"/>
<circle cx="267.2" cy="462.7" r="1.65"/>
<circle cx="227.1" cy="475.4" r="1.65"/>
<circle cx="237.8" cy="468.5" r="1.65"/>
<circle cx="224.3" cy="466.0" r="1.65"/>
<circle cx="251.1" cy="462.6" r="1.65"/>
<circle cx="220.3" cy="473.0" r="1.65"/>
<circle cx="225.1" cy="473.2" r="1.65"/>
<circle cx="228.2" cy="471.0" r="1.65"/>
<circle cx="259.3" cy="459.8" r="1.65"/>
<circle cx="242.8" cy="467.9" r="1.65"/>
<circle cx="259.5" cy="462.9" r="1.65"/>
<circle cx="244.5" cy="468.3" r="1.65"/>
<circle cx="252.1" cy="462.3" r="1.65"/>
<circle cx="261.5" cy="444.3" r="1.65"/>
<circle cx="251.4" cy="462.5" r="1.65"/>
<circle cx="236.8" cy="473.2" r="1.65"/>
<circle cx="253.3" cy="460.7" r="1.65"/>
<circle cx="263.8" cy="464.3" r="1.65"/>
<circle cx="246.9" cy="464.1" r="1.65"/>
<circle cx="265.6" cy="461.4" r="1.65"/>
<circle cx="266.3" cy="457.4" r="1.65"/>
<circle cx="256.9" cy="460.6" r="1.65"/>
<circle cx="259.4" cy="462.1" r="1.65"/>
<circle cx="252.0" cy="461.0" r="1.65"/>
<circle cx="261.6" cy="458.5" r="1.65"/>
<circle cx="246.4" cy="465.7" r="1.65"/>
<circle cx="222.1" cy="470.9" r="1.65"/>
<circle cx="228.5" cy="478.1" r="1.65"/>
<circle cx="228.4" cy="472.9" r="1.65"/>
<circle cx="223.4" cy="477.7" r="1.65"/>
<circle cx="221.8" cy="470.9" r="1.65"/>
<circle cx="221.9" cy="473.3" r="1.65"/>
<circle cx="256.9" cy="453.5" r="1.65"/>
<circle cx="255.0" cy="461.2" r="1.65"/>
<circle cx="267.0" cy="458.4" r="1.65"/>
<circle cx="266.5" cy="458.9" r="1.65"/>
<circle cx="263.0" cy="460.0" r="1.65"/>
<circle cx="247.7" cy="467.2" r="1.65"/>
<circle cx="221.1" cy="471.7" r="1.65"/>
<circle cx="264.2" cy="463.4" r="1.65"/>
<circle cx="247.1" cy="473.6" r="1.65"/>
<circle cx="252.3" cy="463.4" r="1.65"/>
<circle cx="220.1" cy="467.9" r="1.65"/>
<circle cx="223.3" cy="471.9" r="1.65"/>
<circle cx="249.3" cy="464.2" r="1.65"/>
<circle cx="261.3" cy="459.9" r="1.65"/>
<circle cx="257.8" cy="460.5" r="1.65"/>
<circle cx="263.1" cy="458.1" r="1.65"/>
<circle cx="247.5" cy="467.1" r="1.65"/>
<circle cx="233.9" cy="466.6" r="1.65"/>
<circle cx="224.8" cy="474.3" r="1.65"/>
<circle cx="254.8" cy="459.5" r="1.65"/>
<circle cx="242.3" cy="471.0" r="1.65"/>
<circle cx="240.3" cy="469.2" r="1.65"/>
<circle cx="243.5" cy="464.9" r="1.65"/>
<circle cx="224.4" cy="471.9" r="1.65"/>
<circle cx="250.9" cy="462.4" r="1.65"/>
<circle cx="238.9" cy="463.6" r="1.65"/>
<circle cx="222.0" cy="475.7" r="1.65"/>
<circle cx="255.4" cy="469.9" r="1.65"/>
<circle cx="254.5" cy="462.9" r="1.65"/>
<circle cx="262.2" cy="455.4" r="1.65"/>
<circle cx="226.1" cy="473.5" r="1.65"/>
<circle cx="241.7" cy="466.6" r="1.65"/>
<circle cx="244.1" cy="459.4" r="1.65"/>
<circle cx="231.6" cy="474.0" r="1.65"/>
<circle cx="254.9" cy="458.4" r="1.65"/>
<circle cx="220.4" cy="482.3" r="1.65"/>
<circle cx="222.9" cy="472.8" r="1.65"/>
<circle cx="260.6" cy="466.4" r="1.65"/>
<circle cx="233.7" cy="471.3" r="1.65"/>
<circle cx="262.5" cy="450.0" r="1.65"/>
<circle cx="250.1" cy="469.1" r="1.65"/>
<circle cx="251.5" cy="464.7" r="1.65"/>
<circle cx="221.1" cy="475.7" r="1.65"/>
<circle cx="262.2" cy="464.3" r="1.65"/>
<circle cx="223.0" cy="471.3" r="1.65"/>
<circle cx="236.3" cy="466.4" r="1.65"/>
<circle cx="242.5" cy="470.8" r="1.65"/>
<circle cx="255.2" cy="466.0" r="1.65"/>
<circle cx="249.8" cy="461.5" r="1.65"/>
<circle cx="265.9" cy="460.4" r="1.65"/>
<circle cx="227.9" cy="473.9" r="1.65"/>
<circle cx="238.8" cy="475.2" r="1.65"/>
<circle cx="264.6" cy="460.8" r="1.65"/>
<circle cx="226.1" cy="476.7" r="1.65"/>
<circle cx="250.1" cy="468.0" r="1.65"/>
<circle cx="222.8" cy="474.2" r="1.65"/>
<circle cx="227.0" cy="473.4" r="1.65"/>
<circle cx="236.8" cy="469.4" r="1.65"/>
<circle cx="250.6" cy="467.0" r="1.65"/>
<circle cx="250.4" cy="465.8" r="1.65"/>
<circle cx="231.6" cy="467.3" r="1.65"/>
<circle cx="241.7" cy="468.9" r="1.65"/>
<circle cx="223.5" cy="477.7" r="1.65"/>
<circle cx="307.0" cy="439.8" r="1.65"/>
<circle cx="285.1" cy="443.6" r="1.65"/>
<circle cx="280.3" cy="450.9" r="1.65"/>
<circle cx="321.5" cy="435.6" r="1.65"/>
<circle cx="333.3" cy="439.4" r="1.65"/>
<circle cx="281.9" cy="453.9" r="1.65"/>
<circle cx="293.0" cy="451.4" r="1.65"/>
<circle cx="298.4" cy="445.6" r="1.65"/>
<circle cx="282.7" cy="453.3" r="1.65"/>
<circle cx="271.3" cy="457.5" r="1.65"/>
<circle cx="328.7" cy="435.4" r="1.65"/>
<circle cx="326.5" cy="433.8" r="1.65"/>
<circle cx="339.1" cy="433.3" r="1.65"/>
<circle cx="277.8" cy="460.2" r="1.65"/>
<circle cx="290.5" cy="446.2" r="1.65"/>
<circle cx="316.5" cy="444.7" r="1.65"/>
<circle cx="296.3" cy="442.3" r="1.65"/>
<circle cx="296.4" cy="453.4" r="1.65"/>
<circle cx="321.3" cy="439.1" r="1.65"/>
<circle cx="285.6" cy="441.4" r="1.65"/>
<circle cx="287.1" cy="450.7" r="1.65"/>
<circle cx="306.8" cy="440.4" r="1.65"/>
<circle cx="292.1" cy="453.5" r="1.65"/>
<circle cx="283.4" cy="449.1" r="1.65"/>
<circle cx="337.7" cy="437.6" r="1.65"/>
<circle cx="318.2" cy="440.8" r="1.65"/>
<circle cx="295.2" cy="451.8" r="1.65"/>
<circle cx="309.9" cy="431.1" r="1.65"/>
<circle cx="305.9" cy="450.6" r="1.65"/>
<circle cx="321.0" cy="437.4" r="1.65"/>
<circle cx="310.4" cy="445.9" r="1.65"/>
<circle cx="273.2" cy="446.7" r="1.65"/>
<circle cx="282.3" cy="455.4" r="1.65"/>
<circle cx="291.0" cy="449.8" r="1.65"/>
<circle cx="297.6" cy="442.7" r="1.65"/>
<circle cx="317.6" cy="444.1" r="1.65"/>
<circle cx="268.2" cy="460.7" r="1.65"/>
<circle cx="344.8" cy="439.2" r="1.65"/>
<circle cx="273.7" cy="453.3" r="1.65"/>
<circle cx="304.5" cy="450.5" r="1.65"/>
<circle cx="279.6" cy="457.2" r="1.65"/>
<circle cx="298.1" cy="442.5" r="1.65"/>
<circle cx="292.0" cy="451.4" r="1.65"/>
<circle cx="343.2" cy="434.3" r="1.65"/>
<circle cx="341.1" cy="430.1" r="1.65"/>
<circle cx="268.8" cy="461.6" r="1.65"/>
<circle cx="337.7" cy="436.9" r="1.65"/>
<circle cx="334.4" cy="441.2" r="1.65"/>
<circle cx="307.3" cy="446.8" r="1.65"/>
<circle cx="273.2" cy="453.9" r="1.65"/>
<circle cx="268.4" cy="459.6" r="1.65"/>
<circle cx="298.6" cy="447.7" r="1.65"/>
<circle cx="276.4" cy="456.2" r="1.65"/>
<circle cx="335.6" cy="435.2" r="1.65"/>
<circle cx="337.9" cy="443.3" r="1.65"/>
<circle cx="333.7" cy="435.2" r="1.65"/>
<circle cx="295.8" cy="448.6" r="1.65"/>
<circle cx="286.9" cy="444.2" r="1.65"/>
<circle cx="344.2" cy="430.7" r="1.65"/>
<circle cx="275.8" cy="449.1" r="1.65"/>
<circle cx="604.7" cy="339.2" r="1.65"/>
<circle cx="606.8" cy="343.6" r="1.65"/>
<circle cx="607.4" cy="350.0" r="1.65"/>
<circle cx="606.8" cy="353.3" r="1.65"/>
<circle cx="602.5" cy="353.3" r="1.65"/>
<circle cx="604.7" cy="358.7" r="1.65"/>
<circle cx="620.5" cy="335.9" r="1.65"/>
<circle cx="620.5" cy="338.4" r="1.65"/>
<circle cx="626.3" cy="339.9" r="1.65"/>
<circle cx="619.9" cy="354.1" r="1.65"/>
<circle cx="626.3" cy="358.5" r="1.65"/>
<circle cx="632.3" cy="349.5" r="1.65"/>
<circle cx="635.4" cy="343.6" r="1.65"/>
<circle cx="638.5" cy="334.6" r="1.65"/>
<circle cx="646.2" cy="340.1" r="1.65"/>
<circle cx="649.0" cy="336.7" r="1.65"/>
<circle cx="652.1" cy="334.6" r="1.65"/>
<circle cx="658.3" cy="336.4" r="1.65"/>
<circle cx="651.5" cy="342.1" r="1.65"/>
<circle cx="655.2" cy="340.5" r="1.65"/>
<circle cx="655.2" cy="344.2" r="1.65"/>
<circle cx="657.7" cy="346.1" r="1.65"/>
<circle cx="672.6" cy="337.4" r="1.65"/>
<circle cx="552.5" cy="339.9" r="1.65"/>
<circle cx="550.4" cy="349.4" r="1.65"/>
<circle cx="556.9" cy="355.4" r="1.65"/>
<circle cx="547.3" cy="359.5" r="1.65"/>
<circle cx="568.1" cy="351.4" r="1.65"/>
<circle cx="576.0" cy="335.9" r="1.65"/>
<circle cx="578.5" cy="346.4" r="1.65"/>
<circle cx="578.5" cy="357.8" r="1.65"/>
<circle cx="578.3" cy="366.9" r="1.65"/>
<circle cx="553.5" cy="376.5" r="1.65"/>
<circle cx="523.9" cy="361.6" r="1.65"/>
<circle cx="523.4" cy="365.3" r="1.65"/>
<circle cx="520.6" cy="370.2" r="1.65"/>
<circle cx="527.0" cy="385.1" r="1.65"/>
<circle cx="465.0" cy="375.1" r="1.65"/>
<circle cx="389.1" cy="372.6" r="1.65"/>
<circle cx="444.9" cy="387.8" r="1.65"/>
<circle cx="444.6" cy="397.1" r="1.65"/>
<circle cx="435.6" cy="400.2" r="1.65"/>
<circle cx="451.1" cy="404.8" r="1.65"/>
<circle cx="506.3" cy="397.4" r="1.65"/>
<circle cx="444.9" cy="420.3" r="1.65"/>
<circle cx="441.4" cy="447.1" r="1.65"/>
<circle cx="366.1" cy="398.4" r="1.65"/>
<circle cx="356.4" cy="410.4" r="1.65"/>
<circle cx="357.4" cy="417.0" r="1.65"/>
<circle cx="346.5" cy="419.5" r="1.65"/>
<circle cx="367.3" cy="417.0" r="1.65"/>
<circle cx="362.4" cy="420.9" r="1.65"/>
<circle cx="361.1" cy="424.0" r="1.65"/>
<circle cx="363.6" cy="424.4" r="1.65"/>
<circle cx="374.5" cy="420.0" r="1.65"/>
<circle cx="377.5" cy="424.7" r="1.65"/>
<circle cx="356.4" cy="427.8" r="1.65"/>
<circle cx="348.5" cy="430.2" r="1.65"/>
<circle cx="369.6" cy="427.8" r="1.65"/>
<circle cx="371.7" cy="427.4" r="1.65"/>
<circle cx="366.7" cy="430.2" r="1.65"/>
<circle cx="368.0" cy="432.4" r="1.65"/>
<circle cx="375.8" cy="429.0" r="1.65"/>
<circle cx="380.4" cy="430.9" r="1.65"/>
<circle cx="386.6" cy="415.4" r="1.65"/>
<circle cx="385.3" cy="417.8" r="1.65"/>
<circle cx="394.6" cy="408.5" r="1.65"/>
<circle cx="399.0" cy="412.5" r="1.65"/>
<circle cx="391.9" cy="421.2" r="1.65"/>
<circle cx="391.2" cy="424.7" r="1.65"/>
<circle cx="399.6" cy="420.3" r="1.65"/>
<circle cx="400.2" cy="423.7" r="1.65"/>
<circle cx="408.3" cy="412.0" r="1.65"/>
<circle cx="407.0" cy="412.9" r="1.65"/>
<circle cx="408.9" cy="413.7" r="1.65"/>
<circle cx="415.5" cy="414.5" r="1.65"/>
<circle cx="418.8" cy="403.6" r="1.65"/>
<circle cx="413.5" cy="425.3" r="1.65"/>
<circle cx="413.9" cy="434.0" r="1.65"/>
<circle cx="394.0" cy="438.3" r="1.65"/>
<circle cx="347.5" cy="436.5" r="1.65"/>
<circle cx="351.8" cy="435.8" r="1.65"/>
<circle cx="353.7" cy="437.1" r="1.65"/>
<circle cx="354.5" cy="464.4" r="1.65"/>
<circle cx="348.9" cy="451.6" r="1.65"/>
<circle cx="359.8" cy="446.0" r="1.65"/>
<circle cx="336.5" cy="446.0" r="1.65"/>
<circle cx="341.4" cy="440.8" r="1.65"/>
<circle cx="331.8" cy="442.9" r="1.65"/>
<circle cx="338.8" cy="438.1" r="1.65"/>
<circle cx="333.5" cy="439.9" r="1.65"/>
<circle cx="340.4" cy="413.9" r="1.65"/>
<circle cx="343.2" cy="418.0" r="1.65"/>
<circle cx="346.3" cy="419.3" r="1.65"/>
<circle cx="307.4" cy="422.6" r="1.65"/>
<circle cx="322.1" cy="423.4" r="1.65"/>
<circle cx="335.5" cy="423.9" r="1.65"/>
<circle cx="283.9" cy="426.3" r="1.65"/>
<circle cx="317.4" cy="426.3" r="1.65"/>
<circle cx="323.3" cy="429.6" r="1.65"/>
<circle cx="344.4" cy="430.4" r="1.65"/>
<circle cx="348.1" cy="429.8" r="1.65"/>
<circle cx="272.4" cy="435.1" r="1.65"/>
<circle cx="289.2" cy="434.8" r="1.65"/>
<circle cx="288.0" cy="437.9" r="1.65"/>
<circle cx="307.4" cy="435.1" r="1.65"/>
<circle cx="294.8" cy="440.0" r="1.65"/>
<circle cx="302.2" cy="439.7" r="1.65"/>
<circle cx="304.7" cy="438.5" r="1.65"/>
<circle cx="317.1" cy="436.6" r="1.65"/>
<circle cx="322.1" cy="435.4" r="1.65"/>
<circle cx="324.6" cy="434.2" r="1.65"/>
<circle cx="329.5" cy="434.8" r="1.65"/>
<circle cx="333.2" cy="433.8" r="1.65"/>
<circle cx="338.2" cy="431.7" r="1.65"/>
<circle cx="347.5" cy="436.6" r="1.65"/>
<circle cx="290.4" cy="442.8" r="1.65"/>
<circle cx="281.7" cy="445.0" r="1.65"/>
<circle cx="282.4" cy="447.8" r="1.65"/>
<circle cx="271.8" cy="447.2" r="1.65"/>
<circle cx="299.7" cy="442.2" r="1.65"/>
<circle cx="302.2" cy="444.5" r="1.65"/>
<circle cx="309.7" cy="442.2" r="1.65"/>
<circle cx="312.1" cy="444.7" r="1.65"/>
<circle cx="318.3" cy="442.2" r="1.65"/>
<circle cx="327.0" cy="442.2" r="1.65"/>
<circle cx="332.0" cy="442.8" r="1.65"/>
<circle cx="341.9" cy="441.0" r="1.65"/>
<circle cx="336.3" cy="445.9" r="1.65"/>
<circle cx="319.0" cy="448.7" r="1.65"/>
<circle cx="313.4" cy="451.9" r="1.65"/>
<circle cx="302.2" cy="450.9" r="1.65"/>
<circle cx="294.8" cy="452.1" r="1.65"/>
<circle cx="296.0" cy="453.4" r="1.65"/>
<circle cx="289.8" cy="453.4" r="1.65"/>
<circle cx="293.5" cy="447.2" r="1.65"/>
<circle cx="287.3" cy="450.9" r="1.65"/>
<circle cx="348.5" cy="451.5" r="1.65"/>
<circle cx="303.7" cy="458.6" r="1.65"/>
<circle cx="284.2" cy="457.1" r="1.65"/>
<circle cx="284.9" cy="459.6" r="1.65"/>
<circle cx="279.9" cy="460.8" r="1.65"/>
<circle cx="278.0" cy="451.5" r="1.65"/>
<circle cx="274.9" cy="453.4" r="1.65"/>
<circle cx="266.9" cy="451.5" r="1.65"/>
<circle cx="268.1" cy="454.0" r="1.65"/>
<circle cx="270.0" cy="456.5" r="1.65"/>
<circle cx="273.7" cy="460.8" r="1.65"/>
<circle cx="287.3" cy="463.9" r="1.65"/>
<circle cx="272.4" cy="464.6" r="1.65"/>
<circle cx="253.0" cy="443.0" r="1.65"/>
<circle cx="262.2" cy="447.4" r="1.65"/>
<circle cx="261.9" cy="449.9" r="1.65"/>
<circle cx="266.3" cy="451.1" r="1.65"/>
<circle cx="268.1" cy="453.0" r="1.65"/>
<circle cx="239.6" cy="454.8" r="1.65"/>
<circle cx="245.5" cy="453.0" r="1.65"/>
<circle cx="225.9" cy="460.8" r="1.65"/>
<circle cx="224.7" cy="462.5" r="1.65"/>
<circle cx="216.6" cy="465.4" r="1.65"/>
<circle cx="217.9" cy="466.6" r="1.65"/>
<circle cx="235.9" cy="461.6" r="1.65"/>
<circle cx="239.6" cy="461.6" r="1.65"/>
<circle cx="242.1" cy="460.4" r="1.65"/>
<circle cx="252.0" cy="456.7" r="1.65"/>
<circle cx="253.9" cy="459.2" r="1.65"/>
<circle cx="249.5" cy="459.8" r="1.65"/>
<circle cx="257.0" cy="457.9" r="1.65"/>
<circle cx="260.7" cy="456.7" r="1.65"/>
<circle cx="264.4" cy="458.5" r="1.65"/>
<circle cx="206.1" cy="470.9" r="1.65"/>
<circle cx="203.6" cy="472.8" r="1.65"/>
<circle cx="198.6" cy="472.2" r="1.65"/>
<circle cx="190.0" cy="475.3" r="1.65"/>
<circle cx="196.8" cy="477.1" r="1.65"/>
<circle cx="194.9" cy="479.0" r="1.65"/>
<circle cx="256.3" cy="473.4" r="1.65"/>
<circle cx="255.1" cy="470.3" r="1.65"/>
<circle cx="265.6" cy="469.7" r="1.65"/>
<circle cx="246.4" cy="472.2" r="1.65"/>
<circle cx="242.1" cy="476.9" r="1.65"/>
<circle cx="237.1" cy="479.0" r="1.65"/>
<circle cx="229.0" cy="480.9" r="1.65"/>
<circle cx="226.0" cy="480.3" r="1.65"/>
<circle cx="219.1" cy="483.3" r="1.65"/>
<circle cx="211.7" cy="485.8" r="1.65"/>
<circle cx="204.2" cy="487.7" r="1.65"/>
<circle cx="197.4" cy="485.8" r="1.65"/>
<circle cx="259.4" cy="464.7" r="1.65"/>
<circle cx="264.4" cy="466.0" r="1.65"/>
<circle cx="178.4" cy="478.3" r="1.65"/>
<circle cx="178.2" cy="481.7" r="1.65"/>
<circle cx="141.9" cy="487.5" r="1.65"/>
<circle cx="152.4" cy="486.3" r="1.65"/>
<circle cx="160.5" cy="486.6" r="1.65"/>
<circle cx="167.0" cy="487.0" r="1.65"/>
<circle cx="123.8" cy="495.7" r="1.65"/>
<circle cx="102.7" cy="498.2" r="1.65"/>
<circle cx="137.2" cy="492.8" r="1.65"/>
<circle cx="143.4" cy="491.6" r="1.65"/>
<circle cx="149.6" cy="492.2" r="1.65"/>
<circle cx="157.1" cy="491.0" r="1.65"/>
<circle cx="163.3" cy="489.7" r="1.65"/>
<circle cx="175.7" cy="486.0" r="1.65"/>
<circle cx="181.9" cy="484.2" r="1.65"/>
<circle cx="131.0" cy="498.4" r="1.65"/>
<circle cx="124.8" cy="500.3" r="1.65"/>
<circle cx="118.6" cy="502.1" r="1.65"/>
<circle cx="112.4" cy="504.6" r="1.65"/>
<circle cx="106.2" cy="505.2" r="1.65"/>
<circle cx="170.1" cy="504.6" r="1.65"/>
<circle cx="179.4" cy="496.0" r="1.65"/>
<circle cx="152.7" cy="510.8" r="1.65"/>
<circle cx="144.0" cy="510.2" r="1.65"/>
<circle cx="140.9" cy="507.7" r="1.65"/>
<circle cx="162.0" cy="502.8" r="1.65"/>
<circle cx="167.0" cy="501.5" r="1.65"/>
<circle cx="173.2" cy="499.7" r="1.65"/>
<circle cx="154.6" cy="502.1" r="1.65"/>
<circle cx="157.1" cy="505.9" r="1.65"/>
<circle cx="134.7" cy="513.3" r="1.65"/>
<circle cx="114.5" cy="522.7" r="1.65"/>
<circle cx="126.5" cy="520.0" r="1.65"/>
<circle cx="128.7" cy="521.5" r="1.65"/>
<circle cx="138.2" cy="515.7" r="1.65"/>
<circle cx="152.5" cy="511.3" r="1.65"/>
<circle cx="170.0" cy="504.3" r="1.65"/>
<circle cx="187.5" cy="499.6" r="1.65"/>
<circle cx="91.5" cy="524.4" r="1.65"/>
<circle cx="122.4" cy="518.3" r="1.65"/>
<circle cx="102.8" cy="498.1" r="1.65"/>
<circle cx="95.8" cy="504.3" r="1.65"/>
<circle cx="124.0" cy="495.5" r="1.65"/>
<circle cx="141.8" cy="487.2" r="1.65"/>
<circle cx="152.8" cy="486.5" r="1.65"/>
<circle cx="180.5" cy="496.0" r="1.65"/>
<circle cx="74.0" cy="506.5" r="1.65"/>
<circle cx="76.7" cy="509.6" r="1.65"/>
<circle cx="78.1" cy="513.1" r="1.65"/>
<circle cx="95.6" cy="504.6" r="1.65"/>
<circle cx="95.6" cy="509.6" r="1.65"/>
<circle cx="101.4" cy="498.5" r="1.65"/>
<circle cx="46.3" cy="521.3" r="1.65"/>
<circle cx="50.0" cy="524.0" r="1.65"/>
<circle cx="55.9" cy="523.0" r="1.65"/>
<circle cx="59.4" cy="518.4" r="1.65"/>
<circle cx="61.7" cy="519.5" r="1.65"/>
<circle cx="65.2" cy="522.5" r="1.65"/>
<circle cx="71.0" cy="517.8" r="1.65"/>
<circle cx="72.2" cy="519.5" r="1.65"/>
<circle cx="76.9" cy="519.5" r="1.65"/>
<circle cx="82.7" cy="516.6" r="1.65"/>
<circle cx="87.4" cy="511.9" r="1.65"/>
<circle cx="89.2" cy="513.1" r="1.65"/>
<circle cx="92.1" cy="516.0" r="1.65"/>
<circle cx="97.9" cy="516.6" r="1.65"/>
<circle cx="50.0" cy="528.9" r="1.65"/>
<circle cx="52.4" cy="528.3" r="1.65"/>
<circle cx="60.5" cy="531.2" r="1.65"/>
<circle cx="62.3" cy="532.4" r="1.65"/>
<circle cx="51.8" cy="535.3" r="1.65"/>
<circle cx="55.3" cy="537.1" r="1.65"/>
<circle cx="38.4" cy="528.9" r="1.65"/>
<circle cx="41.9" cy="529.5" r="1.65"/>
<circle cx="39.5" cy="537.1" r="1.65"/>
<circle cx="41.3" cy="537.6" r="1.65"/>
<circle cx="31.9" cy="532.4" r="1.65"/>
<circle cx="34.8" cy="533.0" r="1.65"/>
<circle cx="24.9" cy="534.7" r="1.65"/>
<circle cx="26.7" cy="536.5" r="1.65"/>
<circle cx="29.0" cy="535.9" r="1.65"/>
<circle cx="27.8" cy="538.8" r="1.65"/>
<circle cx="71.0" cy="525.4" r="1.65"/>
<circle cx="74.6" cy="527.1" r="1.65"/>
<circle cx="78.1" cy="527.7" r="1.65"/>
<circle cx="82.7" cy="526.0" r="1.65"/>
<circle cx="87.4" cy="525.4" r="1.65"/>
<circle cx="90.9" cy="524.2" r="1.65"/>
<circle cx="88.6" cy="528.3" r="1.65"/>
<circle cx="73.4" cy="523.0" r="1.65"/>
<circle cx="80.4" cy="523.0" r="1.65"/>
<circle cx="96.7" cy="520.7" r="1.65"/>
<circle cx="57.0" cy="526.5" r="1.65"/>
<circle cx="67.5" cy="524.2" r="1.65"/>
<circle cx="86.2" cy="521.9" r="1.65"/>
<circle cx="99.1" cy="507.9" r="1.65"/>
<circle cx="101.4" cy="517.2" r="1.65"/>
<circle cx="85.0" cy="511.4" r="1.65"/>
<circle cx="93.2" cy="513.1" r="1.65"/>
</g>
<line x1="24.0" y1="539.1" x2="681.3" y2="323.0" stroke="#ff0000" stroke-width="2.8"/>
<line x1="24.0" y1="323.2" x2="681.3" y2="323.2" stroke="#777" stroke-width="1" stroke-linecap="square"/>
<line x1="24.0" y1="542.3" x2="681.3" y2="542.3" stroke="#5a5a5a" stroke-width="1" stroke-linecap="square"/>
<line x1="24.0" y1="323.2" x2="24.0" y2="542.3" stroke="#262626" stroke-width="1"/>
<line x1="681.3" y1="323.2" x2="681.3" y2="542.3" stroke="#444" stroke-width="1"/>
<text x="24.3" y="551.9" text-anchor="middle" style="font-family:'Liberation Sans',sans-serif;font-size:6.6px" fill="#111">0</text>
<line x1="155.5" y1="542.3" x2="155.5" y2="535.8" stroke="#333"/>
<line x1="155.5" y1="323.2" x2="155.5" y2="330.1" stroke="#555"/>
<text x="155.8" y="551.9" text-anchor="middle" style="font-family:'Liberation Sans',sans-serif;font-size:6.6px" fill="#111">5</text>
<line x1="286.9" y1="542.3" x2="286.9" y2="535.8" stroke="#333"/>
<line x1="286.9" y1="323.2" x2="286.9" y2="330.1" stroke="#555"/>
<text x="287.2" y="551.9" text-anchor="middle" style="font-family:'Liberation Sans',sans-serif;font-size:6.6px" fill="#111">10</text>
<line x1="418.4" y1="542.3" x2="418.4" y2="535.8" stroke="#333"/>
<line x1="418.4" y1="323.2" x2="418.4" y2="330.1" stroke="#555"/>
<text x="418.7" y="551.9" text-anchor="middle" style="font-family:'Liberation Sans',sans-serif;font-size:6.6px" fill="#111">15</text>
<line x1="549.8" y1="542.3" x2="549.8" y2="535.8" stroke="#333"/>
<line x1="549.8" y1="323.2" x2="549.8" y2="330.1" stroke="#555"/>
<text x="550.1" y="551.9" text-anchor="middle" style="font-family:'Liberation Sans',sans-serif;font-size:6.6px" fill="#111">20</text>
<text x="681.6" y="551.9" text-anchor="middle" style="font-family:'Liberation Sans',sans-serif;font-size:6.6px" fill="#111">25</text>
<text x="21.4" y="545.6" text-anchor="end" style="font-family:'Liberation Sans',sans-serif;font-size:6.6px" fill="#111">0</text>
<line x1="24.0" y1="496.9" x2="30.5" y2="496.9" stroke="#555"/>
<line x1="681.3" y1="496.9" x2="674.8" y2="496.9" stroke="#555"/>
<text x="21.4" y="500.2" text-anchor="end" style="font-family:'Liberation Sans',sans-serif;font-size:6.6px" fill="#111">5</text>
<line x1="24.0" y1="451.6" x2="30.5" y2="451.6" stroke="#555"/>
<line x1="681.3" y1="451.6" x2="674.8" y2="451.6" stroke="#555"/>
<text x="21.4" y="454.9" text-anchor="end" style="font-family:'Liberation Sans',sans-serif;font-size:6.6px" fill="#111">10</text>
<line x1="24.0" y1="406.2" x2="30.5" y2="406.2" stroke="#555"/>
<line x1="681.3" y1="406.2" x2="674.8" y2="406.2" stroke="#555"/>
<text x="21.4" y="409.5" text-anchor="end" style="font-family:'Liberation Sans',sans-serif;font-size:6.6px" fill="#111">15</text>
<line x1="24.0" y1="360.9" x2="30.5" y2="360.9" stroke="#555"/>
<line x1="681.3" y1="360.9" x2="674.8" y2="360.9" stroke="#555"/>
<text x="21.4" y="364.2" text-anchor="end" style="font-family:'Liberation Sans',sans-serif;font-size:6.6px" fill="#111">20</text>
<text x="353.1" y="563.8" text-anchor="middle" style="font-family:'Liberation Serif',serif;font-size:12.6px" fill="#000" stroke="#000" stroke-width="0.25">Actual Values</text>
<text transform="translate(8.4,432.4) rotate(-90)" text-anchor="middle" style="font-family:'Liberation Serif',serif;font-size:13px" fill="#000" stroke="#000" stroke-width="0.25">Predicted Values</text>
<text x="354.8" y="320.2" text-anchor="middle" style="font-family:'Liberation Sans',sans-serif;font-size:7.1px;font-weight:bold" fill="#000">RMSE=0.7089</text>
</svg></div></body></html>
